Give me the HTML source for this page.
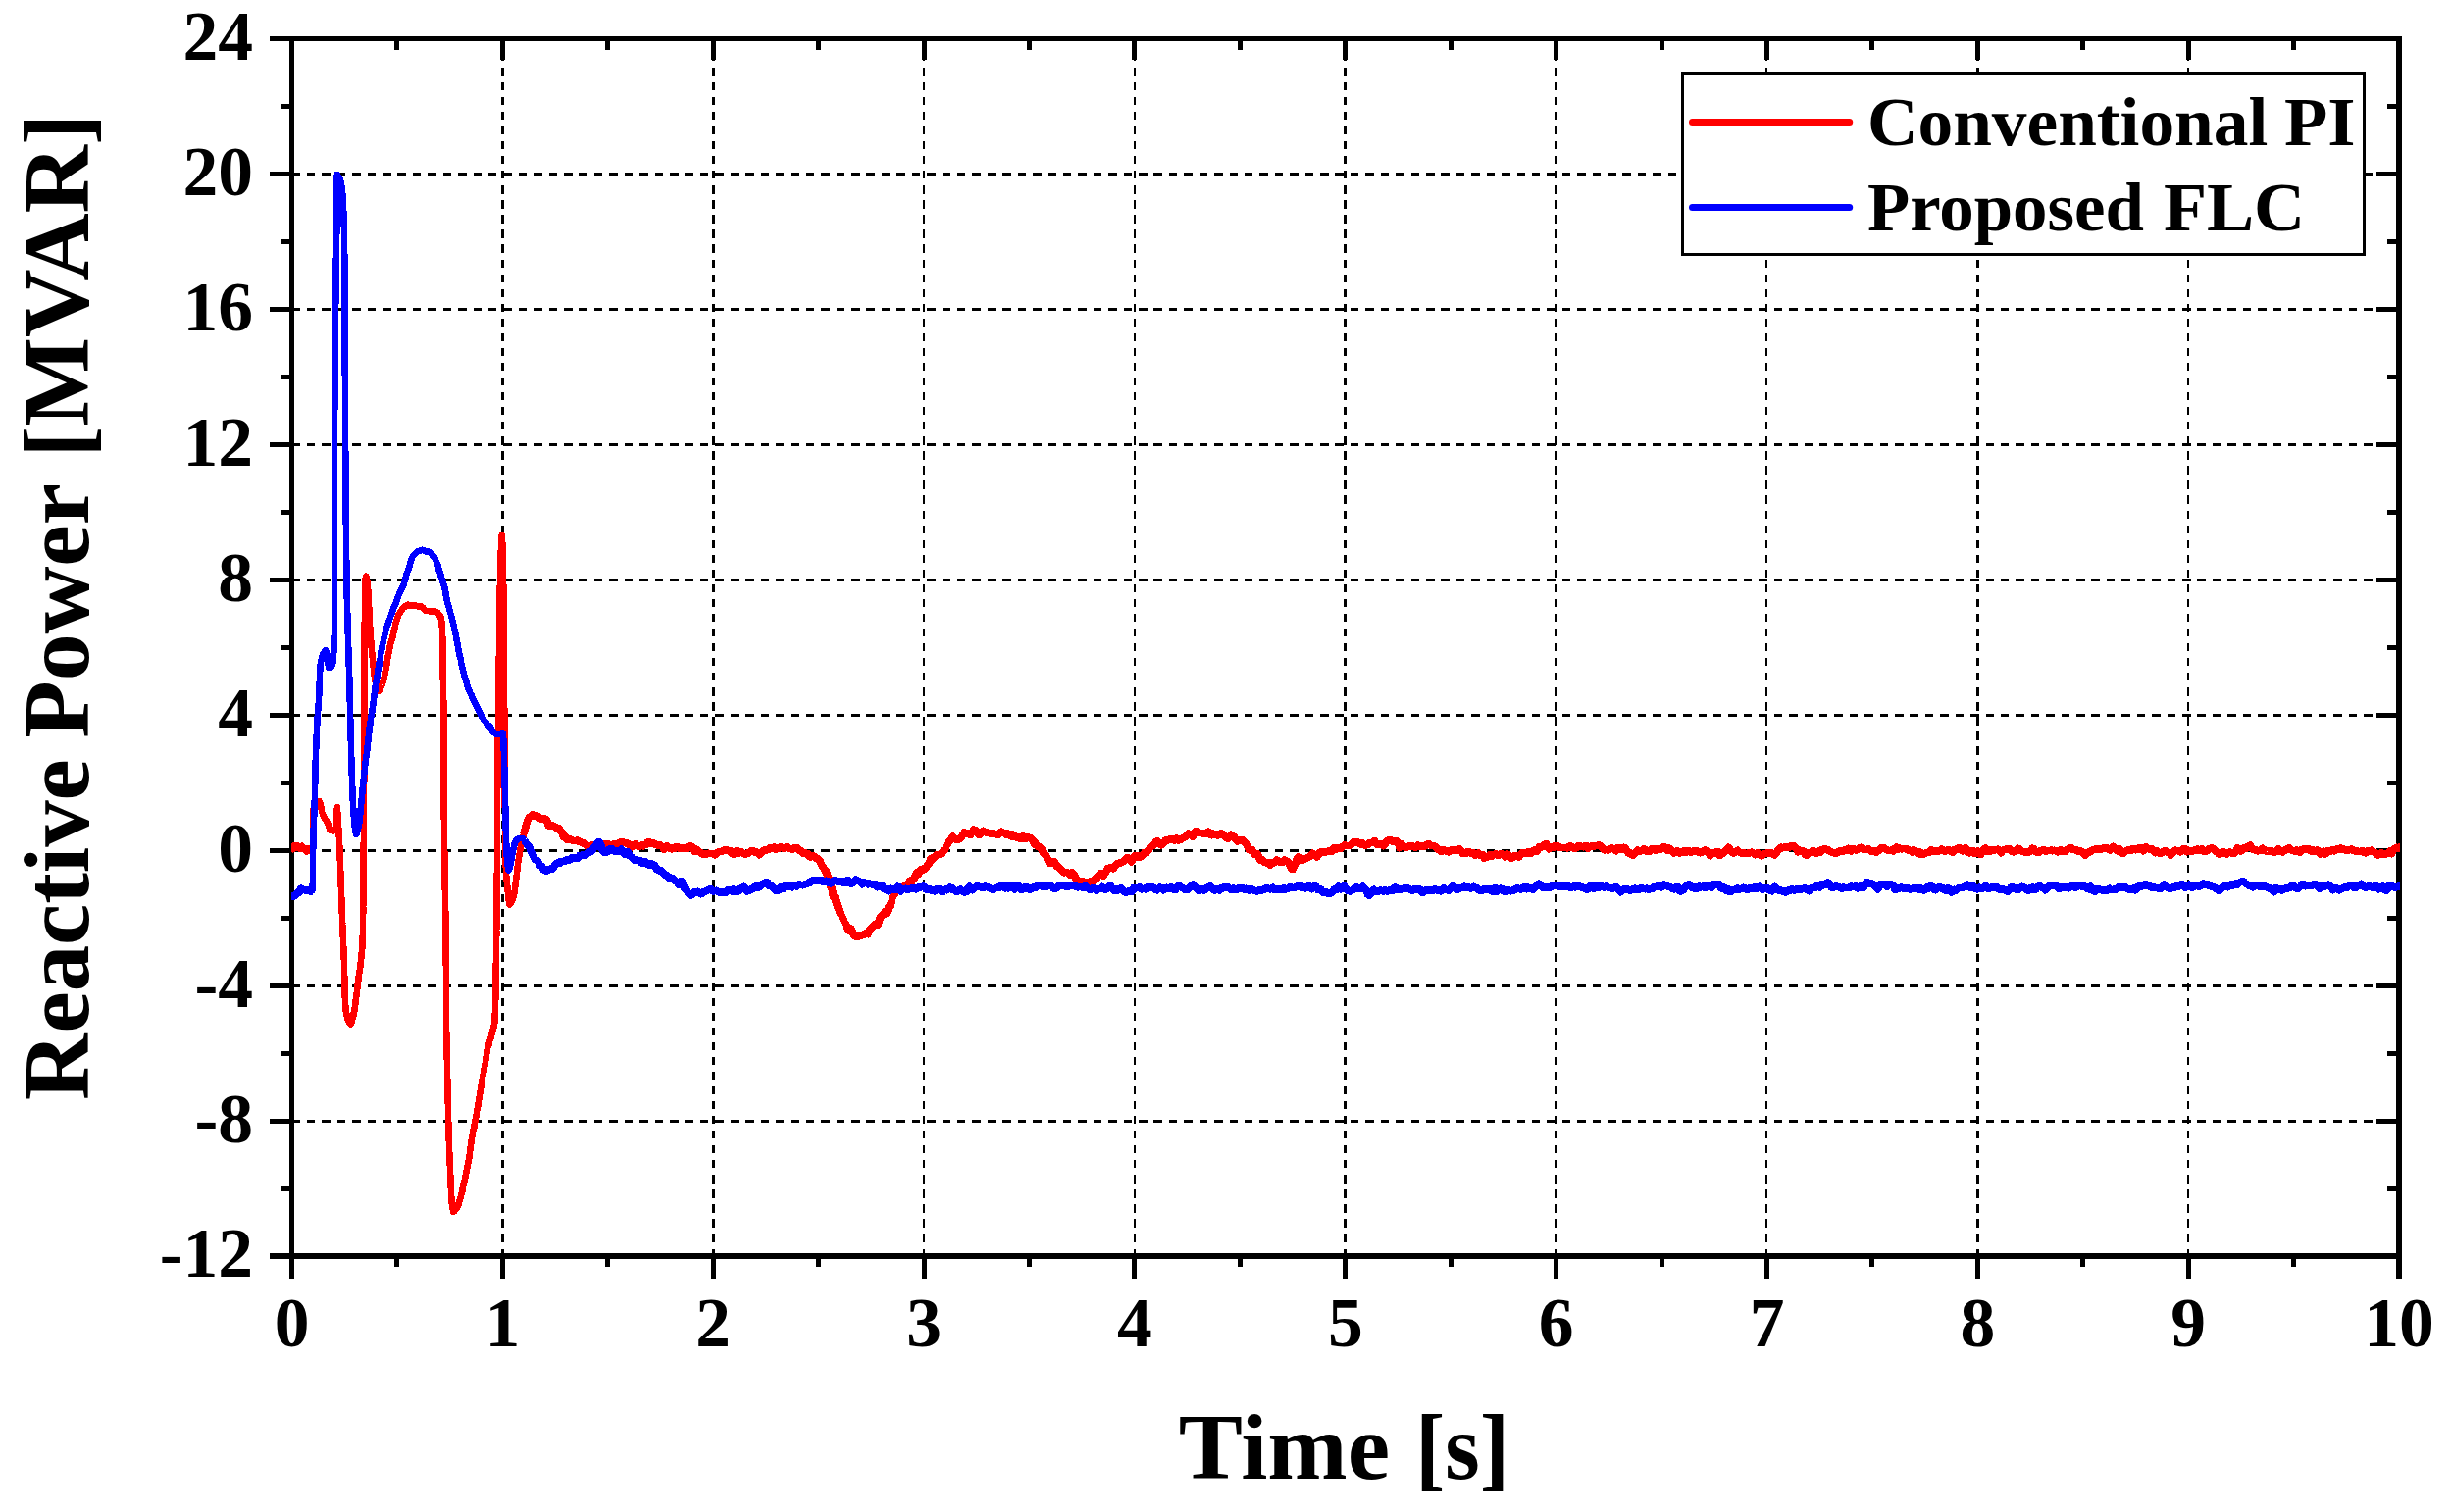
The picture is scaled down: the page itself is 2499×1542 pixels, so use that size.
<!DOCTYPE html>
<html lang="en"><head><meta charset="utf-8"><title>Reactive Power</title>
<style>html,body{margin:0;padding:0;background:#fff}body{width:2499px;height:1542px;overflow:hidden}svg{display:block}text{font-family:"Liberation Serif",serif;font-weight:bold;fill:#000}</style></head><body>
<svg width="2499" height="1542" viewBox="0 0 2499 1542">
<rect width="2499" height="1542" fill="#fff"/>
<g stroke="#000" fill="none" shape-rendering="crispEdges">
<line x1="512.5" y1="38.6" x2="512.5" y2="1281.0" stroke-width="3" stroke-dasharray="8.3 6.76"/>
<line x1="727.5" y1="38.6" x2="727.5" y2="1281.0" stroke-width="3" stroke-dasharray="8.3 6.76"/>
<line x1="942" y1="38.6" x2="942" y2="1281.0" stroke-width="2" stroke-dasharray="8.3 6.76"/>
<line x1="1157" y1="38.6" x2="1157" y2="1281.0" stroke-width="2" stroke-dasharray="8.3 6.76"/>
<line x1="1371.5" y1="38.6" x2="1371.5" y2="1281.0" stroke-width="3" stroke-dasharray="8.3 6.76"/>
<line x1="1586.5" y1="38.6" x2="1586.5" y2="1281.0" stroke-width="3" stroke-dasharray="8.3 6.76"/>
<line x1="1801" y1="38.6" x2="1801" y2="1281.0" stroke-width="2" stroke-dasharray="8.3 6.76"/>
<line x1="2016.5" y1="38.6" x2="2016.5" y2="1281.0" stroke-width="3" stroke-dasharray="8.3 6.76"/>
<line x1="2231" y1="38.6" x2="2231" y2="1281.0" stroke-width="2" stroke-dasharray="8.3 6.76"/>
<line x1="297.5" y1="1143.5" x2="2446.0" y2="1143.5" stroke-width="3" stroke-dasharray="8.5 6.92"/>
<line x1="297.5" y1="1005.5" x2="2446.0" y2="1005.5" stroke-width="3" stroke-dasharray="8.5 6.92"/>
<line x1="297.5" y1="867.5" x2="2446.0" y2="867.5" stroke-width="3" stroke-dasharray="8.5 6.92"/>
<line x1="297.5" y1="729.5" x2="2446.0" y2="729.5" stroke-width="3" stroke-dasharray="8.5 6.92"/>
<line x1="297.5" y1="591.5" x2="2446.0" y2="591.5" stroke-width="3" stroke-dasharray="8.5 6.92"/>
<line x1="297.5" y1="453.5" x2="2446.0" y2="453.5" stroke-width="3" stroke-dasharray="8.5 6.92"/>
<line x1="297.5" y1="315.5" x2="2446.0" y2="315.5" stroke-width="3" stroke-dasharray="8.5 6.92"/>
<line x1="297.5" y1="177.5" x2="2446.0" y2="177.5" stroke-width="3" stroke-dasharray="8.5 6.92"/>
</g>
<g fill="#000" shape-rendering="crispEdges">
<rect x="275" y="37" width="2174" height="5"/>
<rect x="275" y="1278" width="2174" height="6"/>
<rect x="295" y="37" width="5" height="1267"/>
<rect x="2443" y="37" width="6" height="1267"/>
<rect x="402" y="1284" width="5" height="8"/>
<rect x="402" y="42" width="5" height="9"/>
<rect x="510" y="1284" width="5" height="20"/>
<rect x="510" y="42" width="5" height="19"/>
<rect x="617" y="1284" width="5" height="8"/>
<rect x="617" y="42" width="5" height="9"/>
<rect x="725" y="1284" width="5" height="20"/>
<rect x="725" y="42" width="5" height="19"/>
<rect x="832" y="1284" width="5" height="8"/>
<rect x="832" y="42" width="5" height="9"/>
<rect x="940" y="1284" width="5" height="20"/>
<rect x="940" y="42" width="5" height="19"/>
<rect x="1047" y="1284" width="5" height="8"/>
<rect x="1047" y="42" width="5" height="9"/>
<rect x="1154" y="1284" width="5" height="20"/>
<rect x="1154" y="42" width="5" height="19"/>
<rect x="1262" y="1284" width="5" height="8"/>
<rect x="1262" y="42" width="5" height="9"/>
<rect x="1369" y="1284" width="5" height="20"/>
<rect x="1369" y="42" width="5" height="19"/>
<rect x="1477" y="1284" width="5" height="8"/>
<rect x="1477" y="42" width="5" height="9"/>
<rect x="1584" y="1284" width="5" height="20"/>
<rect x="1584" y="42" width="5" height="19"/>
<rect x="1692" y="1284" width="5" height="8"/>
<rect x="1692" y="42" width="5" height="9"/>
<rect x="1799" y="1284" width="5" height="20"/>
<rect x="1799" y="42" width="5" height="19"/>
<rect x="1906" y="1284" width="5" height="8"/>
<rect x="1906" y="42" width="5" height="9"/>
<rect x="2014" y="1284" width="5" height="20"/>
<rect x="2014" y="42" width="5" height="19"/>
<rect x="2121" y="1284" width="5" height="8"/>
<rect x="2121" y="42" width="5" height="9"/>
<rect x="2229" y="1284" width="5" height="20"/>
<rect x="2229" y="42" width="5" height="19"/>
<rect x="2336" y="1284" width="5" height="8"/>
<rect x="2336" y="42" width="5" height="9"/>
<rect x="286" y="1210" width="9" height="5"/>
<rect x="2434" y="1210" width="9" height="5"/>
<rect x="275" y="1141" width="20" height="5"/>
<rect x="2423" y="1141" width="20" height="5"/>
<rect x="286" y="1072" width="9" height="5"/>
<rect x="2434" y="1072" width="9" height="5"/>
<rect x="275" y="1003" width="20" height="5"/>
<rect x="2423" y="1003" width="20" height="5"/>
<rect x="286" y="934" width="9" height="5"/>
<rect x="2434" y="934" width="9" height="5"/>
<rect x="275" y="865" width="20" height="5"/>
<rect x="2423" y="865" width="20" height="5"/>
<rect x="286" y="796" width="9" height="5"/>
<rect x="2434" y="796" width="9" height="5"/>
<rect x="275" y="727" width="20" height="5"/>
<rect x="2423" y="727" width="20" height="5"/>
<rect x="286" y="658" width="9" height="5"/>
<rect x="2434" y="658" width="9" height="5"/>
<rect x="275" y="589" width="20" height="5"/>
<rect x="2423" y="589" width="20" height="5"/>
<rect x="286" y="520" width="9" height="5"/>
<rect x="2434" y="520" width="9" height="5"/>
<rect x="275" y="451" width="20" height="5"/>
<rect x="2423" y="451" width="20" height="5"/>
<rect x="286" y="382" width="9" height="5"/>
<rect x="2434" y="382" width="9" height="5"/>
<rect x="275" y="313" width="20" height="5"/>
<rect x="2423" y="313" width="20" height="5"/>
<rect x="286" y="244" width="9" height="5"/>
<rect x="2434" y="244" width="9" height="5"/>
<rect x="275" y="175" width="20" height="5"/>
<rect x="2423" y="175" width="20" height="5"/>
<rect x="286" y="106" width="9" height="5"/>
<rect x="2434" y="106" width="9" height="5"/>
</g>
<clipPath id="plotclip"><rect x="297.0" y="30" width="2150.0" height="1260"/></clipPath>
<g fill="none" stroke-linejoin="round" stroke-linecap="butt" shape-rendering="crispEdges" clip-path="url(#plotclip)">
<polyline stroke="#ff0000" stroke-width="7.7" points="295.9,867.4 297.4,865.8 298.9,865.4 300.4,862.9 301.9,864.2 303.4,863.1 304.9,864.3 306.4,865.2 307.9,863.4 309.4,864.9 311.0,866.4 312.6,867.9 314.2,865.5 315.8,866.8 317.5,866.3 318.9,866.4"/>
<polyline stroke="#ff0000" stroke-width="6.6" points="318.9,866.4 318.9,864.8 318.9,864.2 319.0,862.9 319.0,861.7 319.0,860.4 319.0,858.8 319.0,857.7 319.0,856.2 319.0,854.4 319.0,852.0 319.0,849.5 319.0,847.7 319.0,846.0 319.0,843.9 319.1,842.2 319.1,840.3 319.1,838.5 319.1,837.1 319.1,835.9 319.2,834.1 319.2,832.5 319.3,831.1 319.4,829.7 319.5,827.7 319.6,826.2 319.8,824.2 320.1,822.4 320.6,821.5 321.3,820.2 322.1,818.5 323.5,817.8 325.0,817.1 325.8,817.2 326.3,819.2 326.7,820.1 327.1,821.6 327.4,823.2 327.7,825.6 328.1,827.7 328.6,829.2 329.2,830.4 329.9,832.2 330.6,833.9 331.4,834.9 332.1,836.0 332.9,837.7 333.6,839.0 334.3,840.2 334.9,841.8 335.5,843.8 336.3,845.9 337.1,847.0 338.3,846.8 340.0,847.4 341.2,847.2 342.2,845.2 342.8,843.6 343.0,843.1 343.1,841.9 343.2,840.4 343.2,838.1 343.3,836.4 343.3,835.2 343.3,833.8 343.4,831.5 343.4,829.8 343.5,828.4 343.6,826.0 343.8,824.1 343.9,823.2 344.0,823.7 344.1,826.3 344.2,828.3 344.3,830.0 344.4,831.4 344.4,832.9 344.5,834.7 344.6,836.4 344.6,838.3 344.7,839.3 344.8,840.7 345.0,842.0 345.1,842.9 345.2,844.5 345.4,846.4 345.5,848.7 345.6,850.7 345.7,853.0 345.8,853.7 345.9,855.0 346.0,856.9 346.1,858.6 346.1,860.1 346.2,861.8 346.3,863.4 346.3,865.0 346.4,866.6 346.5,867.8 346.5,869.4 346.6,870.7 346.6,872.3 346.7,874.5 346.7,876.2 346.8,877.9 346.8,879.5 346.9,881.1 346.9,881.7 347.0,883.3 347.1,885.0 347.1,886.8 347.2,888.3 347.2,890.0 347.3,892.0 347.4,893.5 347.4,895.2 347.5,897.2 347.5,898.5 347.6,899.8 347.6,902.1 347.7,904.2 347.8,905.1 347.8,906.2 347.9,907.5 347.9,909.3 348.0,911.1 348.1,912.8 348.1,914.2 348.2,915.2 348.3,917.0 348.3,918.9 348.4,921.0 348.4,922.5 348.5,924.5 348.6,925.5 348.6,926.6 348.7,928.2 348.7,930.1 348.8,932.0 348.9,933.6 348.9,934.8 349.0,935.8 349.0,938.0 349.1,940.1 349.2,941.4 349.2,942.4 349.3,944.9 349.4,946.8 349.4,947.6 349.5,949.2 349.6,950.4 349.6,951.9 349.7,954.2 349.8,956.3 349.8,957.6 349.9,958.9 350.0,960.9 350.0,962.1 350.1,963.9 350.2,965.0 350.3,966.6 350.4,969.0 350.4,970.3 350.5,971.7 350.6,973.2 350.6,974.9 350.7,976.6 350.8,978.4 350.8,979.8 350.9,981.7 350.9,983.2 351.0,985.1 351.0,987.1 351.0,988.3 351.1,989.2 351.1,990.4 351.1,992.9 351.2,994.9 351.2,996.1 351.2,998.1 351.3,999.4 351.3,1001.4 351.3,1002.6 351.3,1004.4 351.4,1005.7 351.4,1007.3 351.5,1008.8 351.5,1010.5 351.5,1012.4 351.6,1014.5 351.6,1015.6 351.7,1016.5 351.8,1017.9 351.8,1019.8 351.9,1021.1 352.0,1023.1 352.1,1024.6 352.3,1025.9 352.4,1027.1 352.6,1029.5 352.8,1031.2 353.1,1032.4 353.3,1034.1 353.6,1035.2 353.9,1036.9 354.3,1038.5 354.7,1039.7 355.6,1041.6 356.6,1044.0 357.4,1044.4 358.0,1043.8 358.6,1042.3 359.1,1040.3 359.6,1038.3 360.0,1036.7 360.4,1035.5 360.7,1033.3 361.0,1032.3 361.3,1031.2 361.5,1029.6 361.8,1027.5 362.0,1025.9 362.2,1024.6 362.4,1022.4 362.6,1020.5 362.8,1019.3 363.0,1018.1 363.2,1016.4 363.5,1014.9 363.7,1013.3 363.9,1012.0 364.1,1009.8 364.3,1007.3 364.5,1005.7 364.7,1003.7 364.9,1002.1 365.0,1001.4 365.2,1000.7 365.4,999.0 365.6,996.8 365.8,995.0 366.0,994.7 366.2,992.8 366.4,991.0 366.7,989.6 366.9,988.0 367.2,986.5 367.4,985.4 367.6,982.8 367.9,981.2 368.1,979.9 368.2,978.1 368.4,976.7 368.5,974.9 368.7,973.7 368.8,971.5 369.0,970.2 369.1,969.5 369.2,967.9 369.3,965.5 369.4,964.3 369.5,962.2 369.6,960.0 369.6,959.0 369.7,957.8 369.7,955.9 369.8,954.0 369.8,952.2 369.8,951.2 369.9,950.0 369.9,948.2 369.9,946.7 370.0,945.0 370.0,943.5 370.0,941.4 370.0,939.5 370.1,938.8 370.1,937.5 370.1,936.0 370.1,934.1 370.2,932.2 370.2,930.4 370.2,928.7 370.2,926.9 370.2,925.9 370.2,924.5 370.3,922.9 370.3,920.8 370.3,919.0 370.3,917.5 370.3,916.7 370.3,914.6 370.4,912.9 370.4,910.8 370.4,909.1 370.4,907.9 370.4,906.8 370.4,904.3 370.4,903.0 370.4,901.2 370.5,899.9 370.5,897.4 370.5,896.0 370.5,894.6 370.5,893.9 370.5,891.7 370.5,890.7 370.6,889.2 370.6,886.9 370.6,885.3 370.6,884.0 370.6,882.2 370.6,880.7 370.6,879.4 370.6,878.3 370.6,876.1 370.7,874.1 370.7,872.8 370.7,870.9 370.7,869.0 370.7,867.4 370.7,866.3 370.7,865.1 370.7,863.4 370.7,862.1 370.7,860.4 370.8,858.8 370.8,857.9 370.8,854.9 370.8,853.1 370.8,851.5 370.8,850.2 370.8,849.3 370.8,847.7 370.8,845.6 370.8,843.2 370.9,841.8 370.9,840.9 370.9,839.5 370.9,837.6 370.9,835.6 370.9,834.6 370.9,832.7 370.9,831.4 370.9,829.6 370.9,828.4 371.0,827.1 371.0,825.6 371.0,823.3 371.0,820.6 371.0,819.3 371.0,817.8 371.0,816.0 371.0,815.1 371.0,813.9 371.1,811.7 371.1,809.6 371.1,808.1 371.1,806.9 371.1,806.0 371.1,805.0 371.1,802.5 371.1,800.3 371.1,798.6 371.2,797.5 371.2,795.7 371.2,793.9 371.2,792.5 371.2,791.0 371.2,790.1 371.2,788.8 371.2,787.2 371.2,785.1 371.2,783.2 371.3,781.4 371.3,779.9 371.3,778.0 371.3,776.0 371.3,774.3 371.3,773.2 371.3,772.1 371.3,770.7 371.3,769.0 371.3,766.3 371.4,765.2 371.4,763.8 371.4,762.5 371.4,760.9 371.4,759.3 371.4,757.5 371.4,755.0 371.4,753.8 371.4,752.6 371.5,751.2 371.5,749.2 371.5,748.4 371.5,747.1 371.5,745.1 371.5,743.3 371.5,741.1 371.5,740.1 371.5,739.1 371.5,737.2 371.6,735.6 371.6,733.6 371.6,731.5 371.6,729.9 371.6,728.8 371.6,727.1 371.6,725.4 371.6,723.7 371.6,722.4 371.6,720.3 371.6,718.3 371.6,717.3 371.6,715.9 371.6,713.9 371.6,712.2 371.7,710.5 371.7,709.1 371.7,707.0 371.7,706.2 371.7,705.2 371.7,702.8 371.7,701.3 371.7,699.5 371.7,697.8 371.7,696.8 371.7,695.5 371.7,693.7 371.7,692.1 371.7,690.5 371.7,688.8 371.7,686.6 371.7,685.4 371.7,683.8 371.7,682.7 371.7,680.8 371.7,678.9 371.7,677.2 371.7,675.9 371.7,674.6 371.7,672.6 371.7,670.5 371.7,669.1 371.7,667.8 371.7,665.8 371.7,663.7 371.7,662.6 371.7,661.6 371.7,659.5 371.7,657.5 371.7,656.0 371.7,654.6 371.7,653.5 371.7,651.6 371.7,650.1 371.7,648.5 371.7,646.9 371.7,645.4 371.7,643.3 371.7,641.2 371.7,640.2 371.7,639.7 371.7,637.8 371.7,636.3 371.8,634.4 371.8,632.7 371.8,631.3 371.8,629.9 371.8,627.9 371.8,625.5 371.9,624.0 371.9,622.8 371.9,621.7 371.9,620.2 371.9,617.9 371.9,616.2 372.0,615.1 372.0,613.6 372.0,611.3 372.0,609.7 372.1,608.6 372.1,606.9 372.1,605.1 372.2,602.2 372.2,600.2 372.3,599.0 372.4,597.2 372.5,595.1 372.6,592.8 372.7,590.8 372.8,589.0 372.9,588.5 373.1,588.0 373.2,587.7 373.5,588.7 373.8,589.4 374.2,591.5 374.5,593.9 374.7,596.3 374.9,598.0 375.0,599.0 375.1,600.0 375.2,601.3 375.3,603.2 375.4,604.6 375.5,606.3 375.6,607.7 375.7,609.8 375.8,611.4 375.9,613.1 376.0,614.2 376.1,615.8 376.1,617.4 376.2,618.9 376.3,620.7 376.4,622.5 376.5,624.2 376.5,624.9 376.6,626.9 376.7,628.2 376.8,630.1 376.9,631.8 377.0,633.0 377.0,635.2 377.1,636.9 377.2,638.9 377.3,640.2 377.4,641.7 377.5,642.7 377.6,644.4 377.7,646.6 377.9,647.9 378.0,649.4 378.1,651.4 378.2,652.8 378.3,654.6 378.4,656.1 378.6,657.7 378.7,658.8 378.8,661.0 379.0,662.6 379.1,664.6 379.3,666.0 379.5,667.3 379.6,668.9 379.8,670.9 379.9,671.9 380.1,673.8 380.3,674.9 380.5,677.0 380.6,679.1 380.8,680.4 381.0,681.6 381.1,683.1 381.3,685.2 381.4,686.0 381.6,687.1 381.8,689.4 382.0,690.4 382.2,692.4 382.5,694.2 382.8,696.1 383.2,698.0 383.7,700.3 384.3,702.3 384.9,704.4 385.5,704.6 386.2,704.8 386.8,703.7 387.5,702.6 388.2,701.8 388.9,700.1 389.5,698.5 390.1,696.6 390.6,694.6 391.0,692.9 391.4,691.7 391.8,690.4 392.2,688.7 392.5,687.0 392.8,684.7 393.2,683.6 393.5,681.5 393.8,680.4 394.1,679.0 394.4,677.4 394.6,675.7 394.9,673.4 395.2,672.0 395.4,670.3 395.7,668.9 396.0,667.0 396.3,665.7 396.6,665.0 396.9,663.5 397.2,661.6 397.5,660.1 397.9,658.1 398.3,656.0 398.7,655.0 399.1,654.3 399.5,652.8 399.9,651.4 400.3,650.2 400.7,647.8 401.1,646.6 401.5,644.8 401.8,643.1 402.2,641.7 402.5,640.6 402.8,639.2 403.2,636.7 403.6,634.9 404.0,634.0 404.5,632.8 405.0,631.3 405.5,629.9 406.2,627.5 407.0,625.8 407.8,624.8 408.7,623.7 409.6,622.2 410.6,620.1 411.8,619.5 413.1,618.4 414.5,617.5 416.1,616.5 417.6,617.6 419.1,617.5 420.8,617.7 422.4,617.3 424.0,617.8 425.6,618.4 427.2,618.2 428.7,618.3 430.0,618.8 431.2,619.8 432.4,621.7 433.7,622.8 435.2,622.8 436.8,623.2 438.4,623.2 440.0,623.4 441.7,623.7 443.2,623.3 444.8,624.1 446.4,624.9 447.7,627.0 448.4,627.8 448.9,627.9 449.4,629.5 449.8,631.8 450.1,632.9 450.4,634.3 450.5,636.4 450.6,637.7 450.7,638.6 450.8,639.4 450.9,641.9 451.0,643.8 451.1,645.6 451.1,647.2 451.2,648.8 451.2,651.1 451.3,652.4 451.3,653.9 451.4,654.9 451.4,656.4 451.4,658.2 451.5,660.3 451.5,661.6 451.5,663.1 451.5,664.7 451.5,666.6 451.6,668.0 451.6,669.4 451.6,670.7 451.6,672.6 451.6,675.4 451.6,676.9 451.6,678.2 451.7,679.9 451.7,681.7 451.7,682.7 451.7,684.3 451.7,686.1 451.7,687.8 451.7,689.1 451.7,691.0 451.8,693.0 451.8,694.5 451.8,696.1 451.8,696.8 451.8,698.2 451.9,700.1 451.9,702.1 451.9,703.8 452.0,705.1 452.0,706.2 452.0,707.3 452.1,709.8 452.1,711.2 452.1,712.9 452.2,714.2 452.2,715.1 452.2,717.4 452.2,719.5 452.2,721.5 452.2,723.4 452.3,725.2 452.3,725.9 452.3,726.3 452.3,728.3 452.3,729.8 452.3,731.7 452.3,733.7 452.3,734.9 452.3,736.4 452.3,737.8 452.3,740.0 452.3,741.8 452.4,743.2 452.4,744.6 452.4,746.1 452.4,747.3 452.4,749.1 452.4,751.5 452.4,754.2 452.4,755.7 452.4,757.1 452.4,758.2 452.4,759.4 452.4,761.3 452.4,763.2 452.4,764.1 452.4,765.8 452.4,767.2 452.4,768.8 452.4,769.9 452.4,771.7 452.4,774.1 452.5,776.5 452.5,777.5 452.5,778.7 452.5,780.5 452.5,781.8 452.5,783.0 452.5,785.0 452.5,786.8 452.5,788.6 452.5,789.9 452.5,791.5 452.5,792.8 452.5,794.1 452.5,796.0 452.5,798.1 452.5,798.8 452.5,800.3 452.5,802.6 452.5,804.7 452.5,806.2 452.6,807.9 452.6,808.9 452.6,810.5 452.6,812.2 452.6,813.3 452.6,815.1 452.6,816.4 452.6,817.7 452.6,819.3 452.6,821.0 452.6,823.1 452.7,825.3 452.7,827.2 452.7,829.0 452.7,829.6 452.7,830.6 452.7,832.3 452.7,833.8 452.8,835.6 452.8,837.9 452.8,838.8 452.8,840.1 452.8,842.5 452.8,844.7 452.9,845.9 452.9,847.8 452.9,849.1 452.9,850.8 452.9,852.6 453.0,854.2 453.0,856.0 453.0,856.7 453.0,858.4 453.1,859.6 453.1,861.6 453.1,863.3 453.1,864.9 453.1,867.0 453.2,868.0 453.2,869.1 453.2,870.3 453.2,873.0 453.3,874.3 453.3,876.0 453.3,877.3 453.3,879.2 453.4,880.7 453.4,882.6 453.4,884.1 453.4,886.7 453.4,888.1 453.5,888.9 453.5,890.3 453.5,891.7 453.5,893.3 453.6,895.1 453.6,896.4 453.6,898.2 453.6,899.8 453.7,901.0 453.7,902.8 453.7,903.8 453.7,905.9 453.8,908.0 453.8,909.6 453.8,911.0 453.9,912.1 453.9,914.3 453.9,916.7 454.0,917.8 454.0,919.5 454.0,920.5 454.0,922.4 454.1,923.5 454.1,925.5 454.1,927.1 454.2,929.4 454.2,931.0 454.2,932.7 454.3,933.6 454.3,935.5 454.3,937.3 454.3,938.8 454.4,941.1 454.4,942.5 454.4,943.1 454.5,944.9 454.5,947.1 454.5,948.6 454.5,949.6 454.5,950.5 454.6,952.6 454.6,954.5 454.6,956.7 454.6,958.4 454.6,959.8 454.6,960.6 454.6,962.6 454.6,964.8 454.7,966.6 454.7,967.7 454.7,969.0 454.7,971.1 454.7,972.4 454.7,973.6 454.7,975.3 454.7,977.5 454.7,978.8 454.7,980.2 454.7,981.6 454.7,983.6 454.8,985.1 454.8,986.3 454.8,987.5 454.8,989.6 454.8,991.6 454.8,992.6 454.8,994.6 454.8,996.2 454.8,997.6 454.8,999.2 454.8,1000.9 454.8,1003.0 454.8,1005.5 454.8,1007.3 454.8,1007.5 454.8,1009.1 454.8,1011.0 454.8,1012.5 454.9,1013.9 454.9,1015.1 454.9,1017.2 454.9,1019.2 454.9,1020.9 454.9,1022.0 454.9,1023.4 454.9,1024.9 454.9,1026.9 454.9,1028.3 454.9,1029.9 454.9,1031.0 455.0,1032.5 455.0,1034.4 455.0,1036.8 455.0,1037.9 455.0,1039.4 455.0,1041.2 455.0,1042.2 455.0,1043.8 455.1,1045.8 455.1,1047.5 455.1,1049.0 455.1,1050.6 455.2,1051.9 455.2,1053.2 455.2,1055.6 455.2,1056.7 455.3,1057.9 455.3,1059.9 455.3,1062.3 455.4,1063.5 455.4,1064.8 455.4,1066.7 455.5,1068.5 455.5,1069.8 455.5,1071.5 455.6,1073.2 455.6,1074.4 455.7,1075.9 455.7,1077.5 455.7,1079.1 455.8,1080.6 455.8,1082.5 455.8,1084.5 455.9,1086.2 455.9,1087.9 456.0,1089.7 456.0,1091.4 456.0,1093.0 456.1,1094.1 456.1,1095.3 456.1,1097.1 456.2,1099.5 456.2,1100.8 456.2,1101.1 456.3,1102.7 456.3,1105.6 456.3,1106.9 456.4,1108.5 456.4,1110.0 456.5,1111.4 456.5,1113.3 456.5,1115.2 456.6,1116.3 456.6,1117.4 456.6,1119.1 456.7,1120.9 456.7,1122.8 456.7,1124.0 456.8,1125.4 456.8,1127.2 456.8,1128.7 456.9,1129.8 456.9,1131.6 456.9,1133.2 457.0,1135.9 457.0,1137.8 457.0,1139.1 457.1,1140.4 457.1,1141.7 457.2,1143.5 457.2,1145.1 457.2,1147.1 457.3,1148.1 457.3,1149.7 457.4,1151.5 457.4,1152.4 457.5,1154.5 457.5,1156.1 457.6,1157.6 457.6,1159.2 457.7,1160.7 457.7,1162.8 457.8,1164.0 457.8,1166.2 457.9,1168.4 457.9,1169.8 458.0,1171.5 458.0,1172.6 458.1,1173.4 458.2,1175.2 458.2,1177.1 458.3,1178.8 458.4,1180.6 458.4,1181.4 458.5,1182.7 458.6,1184.4 458.6,1185.5 458.7,1187.5 458.8,1189.3 458.8,1190.8 458.9,1192.9 459.0,1194.2 459.1,1195.7 459.1,1196.9 459.2,1198.4 459.3,1199.8 459.4,1202.2 459.4,1204.5 459.5,1205.5 459.6,1207.2 459.6,1208.7 459.7,1210.4 459.8,1212.3 459.9,1214.0 459.9,1215.6 460.0,1217.7 460.1,1218.7 460.2,1220.1 460.4,1221.3 460.5,1223.4 460.6,1225.1 460.8,1227.2 461.0,1229.3 461.2,1230.9 461.5,1232.8 461.8,1234.1 462.1,1236.0 462.5,1235.9 463.2,1235.2 464.1,1234.1 465.2,1232.1 466.1,1231.3 466.8,1230.1 467.4,1228.6 468.0,1226.0 468.5,1224.2 469.0,1223.2 469.5,1221.9 469.9,1220.3 470.3,1218.0 470.7,1217.4 471.1,1215.8 471.5,1214.0 471.8,1211.6 472.1,1210.1 472.4,1208.3 472.7,1207.1 473.0,1206.1 473.4,1204.5 473.7,1203.4 474.1,1202.1 474.4,1200.5 474.8,1198.4 475.2,1197.0 475.5,1195.8 475.9,1193.0 476.3,1191.2 476.6,1189.8 476.9,1188.5 477.2,1187.2 477.5,1185.0 477.8,1183.4 478.0,1182.5 478.3,1180.9 478.5,1179.3 478.7,1177.8 478.9,1176.9 479.1,1174.3 479.3,1172.6 479.5,1171.3 479.8,1169.8 480.0,1168.2 480.2,1166.7 480.4,1165.0 480.6,1163.6 480.8,1162.1 481.1,1160.7 481.3,1159.1 481.6,1158.5 481.9,1156.9 482.2,1154.0 482.5,1152.6 482.8,1152.2 483.2,1150.6 483.5,1148.2 483.8,1146.2 484.2,1145.0 484.5,1142.7 484.8,1141.7 485.1,1140.0 485.4,1138.4 485.7,1136.5 486.0,1135.1 486.2,1133.2 486.5,1131.7 486.8,1130.3 487.0,1129.5 487.3,1127.8 487.5,1126.2 487.8,1124.3 488.0,1122.7 488.3,1121.2 488.5,1119.5 488.8,1118.1 489.1,1116.5 489.3,1115.0 489.6,1113.1 489.9,1111.5 490.2,1109.7 490.5,1108.4 490.8,1106.4 491.1,1105.0 491.3,1103.5 491.6,1101.6 491.9,1099.8 492.2,1098.2 492.5,1096.7 492.8,1095.8 493.1,1095.0 493.3,1092.9 493.6,1090.8 493.9,1089.4 494.1,1088.2 494.4,1086.8 494.6,1085.4 494.8,1084.0 495.1,1082.9 495.3,1080.9 495.6,1078.8 495.8,1077.4 496.1,1075.5 496.4,1073.3 496.7,1071.2 497.0,1070.2 497.3,1068.4 497.7,1067.0 498.1,1066.6 498.5,1065.3 499.0,1062.7 499.4,1061.3 499.9,1060.0 500.4,1058.5 500.8,1057.3 501.3,1054.8 501.7,1052.8 502.2,1051.0 502.7,1049.9 503.1,1049.3 503.5,1047.2 503.9,1045.3 504.1,1043.9 504.3,1042.9 504.4,1041.3 504.5,1039.7 504.6,1037.4 504.7,1035.4 504.7,1034.3 504.8,1033.3 504.9,1031.0 504.9,1029.7 505.0,1028.8 505.0,1026.5 505.1,1024.9 505.1,1023.7 505.1,1021.9 505.2,1019.9 505.2,1017.9 505.3,1016.8 505.3,1015.3 505.3,1013.7 505.3,1012.5 505.4,1011.5 505.4,1009.7 505.4,1007.5 505.5,1006.5 505.5,1005.2 505.5,1003.8 505.5,1001.9 505.5,999.7 505.6,998.0 505.6,996.1 505.6,994.5 505.6,992.9 505.6,991.5 505.7,989.3 505.7,987.5 505.7,986.0 505.7,985.0 505.7,984.3 505.8,982.4 505.8,980.6 505.8,978.4 505.8,977.0 505.9,975.3 505.9,974.0 505.9,972.8 505.9,971.7 505.9,969.3 506.0,966.9 506.0,965.4 506.0,963.6 506.0,962.5 506.1,961.7 506.1,959.7 506.1,957.6 506.1,956.7 506.2,955.2 506.2,953.3 506.2,951.5 506.2,950.0 506.2,948.5 506.3,947.1 506.3,946.0 506.3,944.5 506.3,943.1 506.4,941.2 506.4,939.0 506.4,936.9 506.4,935.3 506.4,934.0 506.5,932.8 506.5,931.3 506.5,929.2 506.5,927.6 506.5,926.3 506.5,925.1 506.5,923.2 506.6,921.8 506.6,920.1 506.6,917.9 506.6,915.5 506.6,914.2 506.6,913.1 506.6,911.3 506.6,909.8 506.7,908.6 506.7,906.4 506.7,905.0 506.7,904.2 506.7,902.1 506.7,899.9 506.7,898.8 506.7,897.2 506.7,895.3 506.7,893.8 506.7,892.1 506.8,890.7 506.8,889.0 506.8,888.1 506.8,886.3 506.8,884.4 506.8,883.3 506.8,882.0 506.8,880.1 506.8,878.5 506.8,876.6 506.8,875.1 506.8,873.9 506.8,872.4 506.8,870.8 506.9,868.7 506.9,866.7 506.9,864.8 506.9,863.9 506.9,862.6 506.9,860.9 506.9,859.8 506.9,857.8 506.9,856.2 506.9,854.2 506.9,851.4 506.9,849.8 506.9,848.5 506.9,847.6 506.9,846.2 506.9,844.9 506.9,843.8 507.0,842.3 507.0,840.5 507.0,838.3 507.0,836.3 507.0,835.1 507.0,833.1 507.0,831.4 507.0,830.5 507.0,828.8 507.0,826.6 507.0,825.0 507.0,823.6 507.0,821.8 507.1,820.7 507.1,818.9 507.1,817.2 507.1,815.3 507.1,814.3 507.1,812.6 507.1,810.8 507.1,809.0 507.1,806.4 507.1,805.4 507.1,804.8 507.2,803.5 507.2,801.3 507.2,799.5 507.2,797.9 507.2,797.1 507.2,795.9 507.2,793.3 507.2,791.4 507.3,789.5 507.3,789.0 507.3,788.1 507.3,786.3 507.3,784.2 507.3,782.3 507.4,780.2 507.4,778.6 507.4,777.1 507.4,775.4 507.4,773.9 507.5,772.7 507.5,771.2 507.5,769.6 507.5,767.4 507.5,765.6 507.6,763.8 507.6,762.4 507.6,760.5 507.6,759.0 507.6,757.4 507.7,755.4 507.7,754.1 507.7,752.7 507.7,751.5 507.8,750.4 507.8,749.3 507.8,746.4 507.8,745.1 507.9,744.2 507.9,741.9 507.9,740.6 507.9,739.3 507.9,737.3 508.0,735.0 508.0,733.8 508.0,732.5 508.0,730.8 508.1,728.9 508.1,727.1 508.1,726.1 508.1,725.1 508.1,722.7 508.2,721.4 508.2,719.6 508.2,717.3 508.2,715.7 508.2,715.0 508.3,712.6 508.3,710.6 508.3,709.6 508.3,708.7 508.3,706.9 508.3,705.2 508.4,704.4 508.4,702.4 508.4,700.9 508.4,699.3 508.4,697.8 508.5,695.4 508.5,693.9 508.5,692.3 508.5,690.3 508.5,688.7 508.6,688.2 508.6,686.8 508.6,685.2 508.6,682.8 508.6,681.7 508.6,680.7 508.7,678.7 508.7,676.6 508.7,674.6 508.7,672.6 508.7,670.6 508.8,669.1 508.8,668.2 508.8,666.1 508.8,665.1 508.8,663.7 508.9,662.7 508.9,661.2 508.9,659.2 508.9,657.6 508.9,655.7 509.0,653.5 509.0,652.5 509.0,650.9 509.0,648.9 509.0,647.4 509.1,646.2 509.1,644.6 509.1,642.7 509.1,641.2 509.1,639.4 509.2,637.1 509.2,636.0 509.2,635.6 509.2,634.1 509.3,632.0 509.3,630.3 509.3,628.9 509.3,627.0 509.3,625.9 509.4,623.8 509.4,622.1 509.4,620.2 509.4,618.9 509.5,616.6 509.5,615.3 509.5,613.4 509.5,611.9 509.5,610.0 509.6,609.2 509.6,607.5 509.6,605.9 509.6,603.5 509.7,602.3 509.7,601.1 509.7,599.9 509.7,598.9 509.8,597.1 509.8,595.3 509.8,593.5 509.9,592.0 509.9,590.2 509.9,587.9 510.0,586.1 510.0,585.5 510.0,584.3 510.1,582.2 510.1,580.3 510.2,578.7 510.2,577.0 510.3,574.4 510.3,573.0 510.4,571.6 510.5,569.9 510.5,567.6 510.6,566.0 510.7,564.1 510.8,561.0 510.9,558.7 511.0,555.8 511.0,554.1 511.1,553.5 511.2,551.6 511.3,550.2 511.4,548.7 511.5,547.4 511.6,546.8 511.6,546.5 511.7,546.0 511.8,546.2 511.8,547.0 511.9,546.9 512.0,547.7 512.1,548.9 512.1,550.9 512.2,552.6 512.3,554.7 512.3,555.5 512.4,557.0 512.5,558.6 512.5,560.6 512.6,562.6 512.6,564.6 512.7,567.4 512.7,569.2 512.8,571.6 512.8,573.6 512.9,574.9 512.9,577.2 512.9,579.5 513.0,581.3 513.0,583.4 513.0,584.6 513.0,586.0 513.1,587.1 513.1,588.9 513.1,590.9 513.1,591.9 513.1,593.8 513.2,596.0 513.2,596.7 513.2,598.5 513.2,599.9 513.2,601.7 513.2,602.7 513.3,604.1 513.3,605.4 513.3,607.6 513.3,609.1 513.3,611.1 513.3,612.1 513.3,614.3 513.4,616.5 513.4,618.4 513.4,619.6 513.4,620.5 513.4,622.1 513.4,624.2 513.4,625.4 513.4,626.5 513.5,629.1 513.5,630.9 513.5,631.9 513.5,633.6 513.5,635.3 513.5,637.2 513.5,638.1 513.5,639.6 513.6,641.8 513.6,643.4 513.6,644.4 513.6,646.3 513.6,647.8 513.6,649.3 513.6,651.4 513.7,652.5 513.7,653.8 513.7,655.6 513.7,657.3 513.7,658.4 513.7,659.5 513.7,661.3 513.7,663.3 513.8,665.3 513.8,667.4 513.8,668.2 513.8,669.6 513.8,671.9 513.8,673.9 513.8,675.9 513.8,677.0 513.8,677.8 513.9,680.0 513.9,681.7 513.9,683.7 513.9,684.7 513.9,686.3 513.9,687.7 513.9,689.4 513.9,691.6 514.0,692.5 514.0,693.7 514.0,695.7 514.0,698.4 514.0,699.4 514.0,700.5 514.0,701.7 514.0,703.5 514.0,704.2 514.1,706.2 514.1,708.6 514.1,710.0 514.1,712.3 514.1,714.2 514.1,715.3 514.1,717.0 514.1,718.8 514.1,720.0 514.2,721.6 514.2,723.4 514.2,724.7 514.2,726.0 514.2,727.5 514.2,729.0 514.2,729.9 514.2,732.1 514.2,734.2 514.2,735.5 514.2,736.5 514.3,738.5 514.3,740.8 514.3,742.3 514.3,743.2 514.3,745.1 514.3,746.6 514.3,748.7 514.3,750.3 514.3,751.8 514.3,753.2 514.3,755.6 514.3,756.6 514.4,758.0 514.4,759.9 514.4,761.6 514.4,762.3 514.4,763.5 514.4,765.5 514.4,766.8 514.4,768.6 514.4,770.3 514.4,772.1 514.4,773.8 514.4,775.5 514.4,777.5 514.5,778.9 514.5,780.7 514.5,782.6 514.5,784.2 514.5,784.8 514.5,786.3 514.5,788.4 514.5,790.4 514.5,792.2 514.5,793.1 514.5,794.7 514.6,796.7 514.6,798.3 514.6,799.4 514.6,800.7 514.6,802.1 514.6,804.4 514.6,806.9 514.6,808.0 514.6,808.8 514.7,810.4 514.7,812.4 514.7,814.5 514.7,816.1 514.7,818.1 514.7,819.2 514.7,820.9 514.7,822.7 514.8,823.9 514.8,824.7 514.8,826.5 514.8,828.6 514.8,829.6 514.8,831.0 514.8,833.3 514.9,834.9 514.9,836.5 514.9,838.1 514.9,839.6 514.9,841.2 514.9,842.4 515.0,843.8 515.0,845.9 515.0,848.0 515.0,848.9 515.0,850.7 515.0,852.2 515.1,854.2 515.1,856.1 515.1,857.6 515.1,859.7 515.2,861.0 515.2,862.2 515.2,863.7 515.2,865.0 515.3,866.1 515.3,867.6 515.3,869.7 515.4,871.3 515.4,873.1 515.4,874.6 515.5,876.4 515.5,877.4 515.5,879.4 515.6,880.9 515.7,882.3 515.7,883.8 515.8,885.2 515.9,887.2 516.0,889.5 516.1,891.0 516.2,892.9 516.4,893.7 516.5,895.4 516.6,897.0 516.8,898.8 516.9,900.2 517.1,902.3 517.2,903.6 517.4,904.8 517.5,907.2 517.7,909.1 517.9,911.1 518.1,912.3 518.3,914.7 518.6,917.3 518.8,918.7 519.1,920.4 519.4,922.2 519.8,922.6 520.2,921.9 520.8,921.4 521.5,920.1 522.3,918.4 523.1,916.1 523.6,914.6 523.9,913.1 524.3,911.1 524.5,909.3 524.8,908.0 525.0,907.1 525.2,904.9 525.4,902.5 525.6,901.1 525.8,900.1 526.0,898.8 526.2,897.0 526.4,895.0 526.6,894.1 526.8,892.4 527.0,891.0 527.2,888.8 527.4,887.4 527.5,886.8 527.7,883.9 527.9,882.2 528.1,880.9 528.3,879.4 528.5,878.8 528.7,877.2 529.0,874.5 529.2,873.2 529.5,872.0 529.7,870.9 530.0,869.1 530.3,867.3 530.6,865.4 530.9,863.5 531.2,861.4 531.6,859.9 531.9,859.3 532.2,857.6 532.6,856.8 533.0,854.8 533.3,852.6 533.7,852.0 534.1,850.7"/>
<polyline stroke="#ff0000" stroke-width="7.7" points="534.1,850.7 534.6,848.4 535.0,846.8 535.4,845.5 535.8,844.4 536.2,841.8 536.7,840.3 537.2,839.2 537.7,837.6 538.4,835.9 539.1,834.0 540.2,833.1 541.5,832.2 543.0,830.9 544.4,831.8 545.9,832.1 547.5,832.0 549.0,832.9 550.6,834.8 552.3,835.3 554.0,834.8 555.4,834.9 556.4,835.6 557.1,837.0 557.7,837.0 558.3,839.4 559.0,841.6 559.8,842.5 561.1,842.4 562.7,841.7 564.4,842.4 566.1,843.1 567.6,844.8 568.9,845.1 570.1,844.8 571.1,847.0 572.2,848.5 573.3,849.1 574.4,853.5 575.5,852.5 576.6,853.3 577.9,856.2 579.3,855.9 580.9,855.5 582.5,856.7 584.2,857.5 585.9,857.5 587.4,857.4 588.9,857.2 590.4,858.3 591.9,858.4 593.4,859.7 594.9,859.8 596.4,861.0 597.9,861.7 599.5,863.6 601.0,862.9 602.6,862.3 604.2,862.4 605.7,862.1 607.2,863.0 608.7,863.6 610.2,860.2 611.8,860.4 613.3,862.4 614.8,862.1 616.4,861.1 617.9,862.6 619.4,861.1 621.0,861.2 622.5,862.3 624.1,861.9 625.6,860.9 627.2,860.8 628.8,861.0 630.4,860.6 632.0,859.4 633.6,858.5 635.2,858.7 636.8,859.6 638.4,859.8 640.0,860.2 641.6,861.7 643.2,864.1 644.8,863.1 646.4,861.4 648.0,860.9 649.5,862.5 651.1,863.3 652.7,863.0 654.2,862.0 655.7,862.8 657.3,861.4 658.8,861.3 660.3,858.9 661.9,858.8 663.4,859.8 664.9,859.8 666.5,860.0 668.0,861.2 669.5,861.6 671.1,862.5 672.6,861.5 674.1,862.6 675.6,863.6 677.1,866.0 678.6,865.1 680.1,862.7 681.6,864.5 683.1,865.2 684.7,865.8 686.3,864.9 687.9,865.5 689.5,863.5 691.1,863.7 692.7,865.2 694.3,865.2 695.9,865.4 697.5,864.7 699.1,865.6 700.7,863.8 702.2,863.0 703.8,864.3 705.3,863.3 706.9,865.7 708.4,868.2 709.9,866.2 711.5,867.4 713.0,868.9 714.6,869.5 716.1,870.9 717.7,870.5 719.3,870.8 720.9,870.8 722.4,870.3 724.0,870.4 725.6,870.6 727.2,870.7 728.8,871.8 730.3,870.3 731.9,869.6 733.5,868.4 735.1,868.6 736.7,867.9 738.3,867.1 739.8,867.5 741.5,867.2 743.1,867.7 744.7,867.8 746.3,870.4 747.9,871.1 749.5,868.9 751.0,868.0 752.6,870.0 754.2,869.9 755.7,868.6 757.3,870.1 758.8,870.7 760.4,870.9 762.0,870.4 763.6,869.8 765.2,868.4 766.7,867.5 768.3,868.1 769.8,869.2 771.3,869.0 772.8,869.7 774.3,871.7 775.8,870.3 777.3,868.6 778.8,867.1 780.3,866.8 781.8,866.9 783.3,866.6 784.8,865.1 786.3,865.3 787.9,864.8 789.5,864.0 791.1,866.3 792.7,865.5 794.3,864.9 795.9,863.6 797.5,864.7 799.1,865.0 800.7,864.3 802.3,864.0 804.0,865.2 805.6,865.5 807.1,866.0 808.7,865.8 810.3,864.8 811.8,865.6 813.3,864.9 814.9,867.0 816.4,867.2 817.9,868.8 819.3,870.3 820.8,870.1 822.2,870.3 823.7,870.4 825.1,873.2 826.5,874.2 827.9,873.0 829.2,872.8 830.5,873.8 831.7,875.0 832.9,875.9 834.2,875.9 835.3,877.0 836.4,878.4 837.5,881.6 838.4,883.3 839.3,884.3 840.2,885.8 841.0,887.6 841.7,888.9 842.5,888.8 843.1,891.2 843.8,894.5 844.4,894.1 845.0,895.3 845.5,897.1 846.0,899.9 846.4,901.4 846.9,904.0 847.3,904.9 847.7,905.1 848.1,905.4 848.5,906.8 848.9,910.2 849.3,913.4 849.8,915.0 850.2,914.1 850.7,914.2 851.1,915.3 851.6,918.6 852.1,919.5 852.6,919.8 853.1,922.5 853.7,924.9 854.2,925.3 854.8,926.6 855.4,929.1 856.0,930.8 856.7,930.5 857.3,931.5 858.0,933.7 858.8,935.2 859.5,937.4 860.3,937.5 861.1,940.9 861.9,942.6 862.7,942.4 863.6,945.1 864.6,948.4 865.6,949.1 866.6,948.9 867.7,947.0 868.9,949.5 870.3,952.9 871.8,954.8 873.3,955.6 874.9,955.0 876.5,954.6 878.0,954.0 879.5,953.3 880.9,953.1 882.4,951.9 883.8,951.6 885.2,952.5 886.5,948.5 887.7,947.1 888.9,946.5 890.1,944.9 891.2,943.2 892.3,943.6 893.3,943.2 894.3,941.1 895.3,943.1 896.3,939.3 897.3,936.0 898.2,935.2 899.1,933.4 900.0,933.1 900.9,931.8 901.8,930.8 902.7,929.4 903.5,931.6 904.3,929.5 905.1,928.3 905.9,925.0 906.7,924.8 907.5,922.7 908.2,922.1 909.0,920.5 909.7,916.2 910.3,913.5 910.9,911.6 911.6,910.8 912.3,911.6 913.1,910.7 914.1,908.2 915.5,907.9 917.1,907.4 918.7,905.1 920.2,904.8 921.5,904.4 922.7,903.1 923.9,902.6 925.1,902.8 926.3,900.8 927.4,898.6 928.5,898.0 929.5,899.5 930.5,898.0 931.5,896.3 932.5,895.2 933.5,892.8 934.5,890.3 935.6,891.9 936.7,891.1 937.9,887.6 939.2,886.9 940.5,886.5 941.8,886.9 943.0,885.2 944.2,885.3 945.3,882.7 946.4,881.7 947.4,881.0 948.3,878.2 949.3,875.2 950.3,875.1 951.3,875.9 952.4,874.7 953.6,873.4 955.0,871.4 956.4,871.5 957.8,871.2 959.2,870.6 960.6,870.1 961.8,867.5 962.9,867.2 963.9,865.7 964.8,862.8 965.6,861.2 966.5,860.2 967.3,858.9 968.2,858.0 969.1,857.1 970.2,855.7 971.5,853.1 973.1,854.7 974.8,856.2 976.5,855.9 978.0,855.9 979.3,854.6 980.7,852.9 982.0,850.6 983.3,848.9 984.7,849.7 986.2,849.8 987.8,850.3 989.4,851.4 991.0,849.2 992.6,846.1 994.3,846.4 995.9,847.8 997.5,850.9 999.0,851.4 1000.6,849.0 1002.2,847.4 1003.8,848.5 1005.4,848.7 1007.0,849.6 1008.6,849.6 1010.1,850.2 1011.7,849.7 1013.3,850.4 1014.9,850.7 1016.5,851.5 1018.1,851.2 1019.7,849.0 1021.3,848.2 1022.9,849.2 1024.5,850.1 1026.1,851.2 1027.6,850.2 1029.2,851.3 1030.8,852.7 1032.4,850.8 1034.0,853.4 1035.5,853.1 1037.1,854.2 1038.7,853.7 1040.2,855.1 1041.7,855.5 1043.3,852.8 1044.9,854.9 1046.4,855.3 1047.9,853.8 1049.3,854.7 1050.7,854.5 1052.1,855.9 1053.4,857.7 1054.7,860.9 1055.9,860.1 1057.1,861.8 1058.3,863.4 1059.3,863.5 1060.3,864.0 1061.2,865.0 1062.1,865.7 1063.0,868.7 1063.8,870.2 1064.7,870.6 1065.7,871.4 1066.7,873.1 1067.7,875.4 1068.9,877.8 1070.1,880.1 1071.3,880.4 1072.6,879.3 1073.9,879.6 1075.2,878.6 1076.5,881.2 1077.7,883.8 1079.0,883.9 1080.4,885.2 1081.7,886.2 1083.0,887.8 1084.4,889.8 1085.7,889.6 1087.1,889.5 1088.6,890.1 1090.0,891.5 1091.5,892.2 1092.9,889.8 1094.4,890.9 1095.8,892.8 1097.1,896.2 1098.4,898.8 1099.6,898.1 1100.8,899.3 1102.1,900.0 1103.6,898.5 1105.1,899.4 1106.7,900.0 1108.3,900.9 1109.8,901.6 1111.1,899.1 1112.4,899.5 1113.6,899.4 1114.9,897.6 1116.1,896.9 1117.4,895.4 1118.6,895.5 1119.8,893.2 1121.0,891.6 1122.3,890.8 1123.6,890.9 1125.0,893.1 1126.4,891.2 1127.9,888.6 1129.4,885.8 1130.9,885.7 1132.4,884.7 1133.9,885.6 1135.3,885.8 1136.8,883.0 1138.3,881.7 1139.7,880.5 1141.1,880.3 1142.4,880.2 1143.7,879.2 1145.0,878.8 1146.2,878.0 1147.5,876.0 1148.9,874.7 1150.3,874.6 1151.9,876.9 1153.5,879.0 1155.1,876.7 1156.7,872.9 1158.2,873.1 1159.7,874.2 1161.2,872.6 1162.6,873.8 1164.0,873.4 1165.4,872.1 1166.8,869.5 1168.1,869.5 1169.3,868.6 1170.5,867.7 1171.7,866.2 1173.0,863.6 1174.2,863.1 1175.5,862.8 1176.9,861.1 1178.2,858.9 1179.6,857.8 1181.0,859.1 1182.5,861.0 1184.0,861.7 1185.5,860.1 1187.1,858.5 1188.7,856.7 1190.3,856.9 1191.9,856.5 1193.5,855.4 1195.1,856.0 1196.7,856.7 1198.3,856.7 1199.9,855.1 1201.4,857.0 1202.9,856.6 1204.3,856.2 1205.7,854.8 1207.1,854.3 1208.5,853.3 1210.0,851.4 1211.5,850.2 1213.0,851.0 1214.5,851.5 1216.1,853.0 1217.7,850.1 1219.3,847.6 1220.9,848.1 1222.5,849.1 1224.1,849.5 1225.7,849.4 1227.3,850.4 1228.9,850.1 1230.5,849.3 1232.1,848.3 1233.7,851.1 1235.3,851.7 1236.9,850.2 1238.5,850.9 1240.1,850.5 1241.6,852.0 1243.1,851.0 1244.6,849.7 1246.1,850.6 1247.5,851.2 1249.0,852.6 1250.5,854.7 1252.0,855.0 1253.6,853.7 1255.2,851.4 1256.8,852.7 1258.5,853.4 1260.1,856.4 1261.6,857.9 1263.1,856.9 1264.6,857.1 1265.9,857.6 1267.2,857.1 1268.5,859.1 1269.7,859.5 1270.9,861.1 1272.1,863.6 1273.2,866.2 1274.4,867.0 1275.5,867.7 1276.6,866.9 1277.7,868.5 1278.9,871.2 1280.0,871.5 1281.2,872.0 1282.4,871.3 1283.7,875.0 1285.0,877.0 1286.3,876.8 1287.6,877.2 1289.1,879.0 1290.6,879.8 1292.2,879.6 1293.8,879.4 1295.3,882.0 1296.9,880.7 1298.5,879.4 1300.2,879.4 1301.8,877.1 1303.4,877.9 1305.0,879.2 1306.6,878.8 1308.2,879.4 1309.7,877.1 1311.2,878.7 1312.7,878.6 1314.1,880.0 1315.5,883.9 1316.9,886.3 1318.2,886.5 1319.5,883.2 1320.8,880.7 1322.1,875.9 1323.4,874.0 1324.8,874.5 1326.2,876.3 1327.6,877.6 1329.1,876.3 1330.6,876.1 1332.1,875.4 1333.6,874.3 1335.2,873.8 1336.7,872.0 1338.2,870.3 1339.8,871.2 1341.3,871.9 1342.8,873.8 1344.4,871.7 1345.9,869.2 1347.5,868.4 1349.0,869.1 1350.6,868.4 1352.1,868.9 1353.7,868.2 1355.2,868.3 1356.8,867.8 1358.3,868.2 1359.9,865.0 1361.4,865.1 1363.0,865.9 1364.5,865.0 1366.1,865.6 1367.6,863.8 1369.2,863.1 1370.7,861.9 1372.2,862.5 1373.8,862.5 1375.3,862.6 1376.9,861.6 1378.4,860.6 1380.0,858.8 1381.5,858.4 1383.1,858.8 1384.6,858.8 1386.2,860.1 1387.7,861.0 1389.2,859.9 1390.7,861.7 1392.2,862.1 1393.7,861.2 1395.2,861.3 1396.6,859.4 1398.1,859.5 1399.7,859.4 1401.2,857.5 1402.8,859.7 1404.3,861.2 1405.9,860.9 1407.4,861.2 1408.9,861.0 1410.5,862.6 1412.0,860.9 1413.5,858.4 1415.1,857.4 1416.6,856.6 1418.2,857.0 1419.9,858.3 1421.6,857.6 1423.2,858.4 1424.4,858.0 1425.3,859.6 1426.1,861.9 1426.9,864.6 1428.1,862.3 1429.4,861.2 1430.9,862.4 1432.6,863.8 1434.3,864.3 1436.0,863.2 1437.7,862.8 1439.3,863.0 1440.8,863.0 1442.4,864.0 1444.0,863.7 1445.6,862.2 1447.2,863.1 1448.8,863.4 1450.4,862.7 1451.9,863.1 1453.5,862.5 1455.1,861.3 1456.7,860.7 1458.3,861.8 1459.9,862.6 1461.5,862.5 1463.1,863.3 1464.6,865.0 1466.2,866.4 1467.8,866.5 1469.3,868.4 1470.9,867.7 1472.5,866.8 1474.0,867.7 1475.6,868.1 1477.2,868.8 1478.7,867.3 1480.3,866.7 1481.9,867.3 1483.5,867.4 1485.1,867.0 1486.7,867.0 1488.3,865.8 1489.8,867.7 1491.3,870.1 1492.9,869.8 1494.4,870.4 1495.9,869.0 1497.5,869.1 1499.1,869.3 1500.7,870.6 1502.4,869.9 1504.0,872.3 1505.6,871.4 1507.2,870.2 1508.7,872.0 1510.3,872.2 1511.8,871.9 1513.3,875.0 1514.7,873.8 1516.2,873.8 1517.7,873.7 1519.2,871.7 1520.7,873.3 1522.2,871.9 1523.7,871.3 1525.2,870.8 1526.7,872.1 1528.2,872.1 1529.8,871.0 1531.3,870.8 1532.9,872.3 1534.5,873.9 1536.1,871.1 1537.7,871.5 1539.3,873.1 1540.9,875.2 1542.5,874.5 1544.1,872.6 1545.7,872.5 1547.3,873.5 1548.9,873.9 1550.5,871.7 1552.1,869.8 1553.6,870.4 1555.1,869.9 1556.7,870.6 1558.2,869.0 1559.6,870.3 1561.1,870.3 1562.6,867.7 1564.0,867.2 1565.4,868.0 1566.8,868.2 1568.2,866.2 1569.6,863.7 1570.9,864.1 1572.3,863.4 1573.7,861.7 1575.1,862.2 1576.5,860.7 1577.9,862.8 1579.3,865.7 1580.8,864.8 1582.4,863.6 1583.9,864.5 1585.5,862.4 1587.1,862.7 1588.8,863.0 1590.4,864.2 1592.0,864.6 1593.6,864.4 1595.2,864.5 1596.8,864.5 1598.4,864.8 1600.0,863.1 1601.6,862.9 1603.2,864.0 1604.8,865.2 1606.4,865.1 1608.0,863.8 1609.6,862.5 1611.2,862.9 1612.8,863.5 1614.4,863.7 1616.0,863.0 1617.6,862.7 1619.2,865.1 1620.8,863.7 1622.4,863.0 1624.0,863.2 1625.6,862.8 1627.1,862.6 1628.7,862.2 1630.3,861.6 1631.9,863.2 1633.4,863.7 1635.0,866.7 1636.6,866.7 1638.2,866.5 1639.8,867.0 1641.5,865.8 1643.1,865.2 1644.7,865.4 1646.3,866.4 1647.9,867.6 1649.4,864.7 1651.0,864.8 1652.6,865.9 1654.1,866.4 1655.6,864.3 1657.1,864.6 1658.6,867.4 1660.2,869.9 1661.7,869.7 1663.2,871.5 1664.8,872.2 1666.3,870.3 1667.9,869.3 1669.5,867.1 1671.1,868.2 1672.6,867.8 1674.2,867.5 1675.7,865.9 1677.2,866.4 1678.7,868.3 1680.2,867.7 1681.8,868.2 1683.3,867.3 1684.9,865.4 1686.5,866.0 1688.1,867.5 1689.7,865.6 1691.2,865.7 1692.8,866.2 1694.4,864.8 1695.9,863.7 1697.5,864.1 1699.0,866.0 1700.5,867.3 1702.1,865.1 1703.6,866.6 1705.1,868.0 1706.6,870.0 1708.1,869.5 1709.7,867.8 1711.3,868.3 1712.8,870.0 1714.4,869.4 1716.0,868.2 1717.6,867.9 1719.2,869.3 1720.9,867.5 1722.5,867.8 1724.1,869.4 1725.7,868.6 1727.3,867.7 1728.9,867.8 1730.5,868.0 1732.1,869.4 1733.8,869.7 1735.4,868.7 1737.1,867.9 1738.8,867.1 1740.4,868.3 1742.1,870.5 1743.7,872.6 1745.3,870.6 1746.9,869.6 1748.5,870.1 1750.0,868.8 1751.5,868.6 1752.9,872.4 1754.3,872.3 1755.6,870.5 1756.8,870.2 1758.0,868.6 1759.3,867.5 1760.7,866.9 1762.2,864.2 1763.7,865.6 1765.3,868.8 1766.9,869.8 1768.5,869.7 1770.1,868.7 1771.7,867.3 1773.3,868.8 1774.8,869.9 1776.4,870.3 1778.0,869.6 1779.6,870.5 1781.2,870.6 1782.8,869.9 1784.4,869.7 1786.0,869.1 1787.6,870.0 1789.2,871.6 1790.8,870.2 1792.4,869.8 1794.0,871.8 1795.6,872.8 1797.2,872.0 1798.8,870.4 1800.3,870.5 1801.9,870.1 1803.4,870.0 1804.9,869.6 1806.4,869.9 1807.9,870.9 1809.4,871.8 1811.0,870.0 1812.5,867.6 1814.1,865.8 1815.7,864.2 1817.3,864.8 1818.9,864.3 1820.5,864.0 1822.1,864.3 1823.7,864.6 1825.2,863.0 1826.8,862.5 1828.4,862.5 1829.9,864.0 1831.5,865.5 1833.0,868.7 1834.6,867.1 1836.1,868.1 1837.7,868.4 1839.2,868.1 1840.8,871.8 1842.3,872.3 1843.9,869.6 1845.5,869.8 1847.1,869.0 1848.7,867.4 1850.3,869.0 1851.9,870.2 1853.4,869.1 1854.8,868.1 1856.3,869.4 1857.8,866.4 1859.3,866.3 1860.8,865.7 1862.3,866.3 1863.9,866.9 1865.5,867.8 1867.1,868.8 1868.7,869.3 1870.3,869.8 1871.8,869.6 1873.4,869.8 1875.0,868.1 1876.5,867.9 1878.1,868.5 1879.7,868.0 1881.2,866.4 1882.8,867.1 1884.4,865.3 1885.9,866.0 1887.5,867.7 1889.1,866.0 1890.7,865.9 1892.3,866.9 1893.9,866.6 1895.4,865.5 1897.0,864.3 1898.6,864.6 1900.2,866.1 1901.8,866.5 1903.4,866.5 1905.0,865.8 1906.6,867.1 1908.2,868.1 1909.8,867.8 1911.4,867.7 1913.0,869.1 1914.6,868.0 1916.2,867.4 1917.8,865.1 1919.4,865.5 1921.0,864.6 1922.6,866.0 1924.2,866.7 1925.8,867.4 1927.4,867.4 1929.0,866.7 1930.6,867.8 1932.2,865.1 1933.8,864.1 1935.4,865.9 1937.0,865.2 1938.6,865.8 1940.2,865.6 1941.8,865.5 1943.4,865.4 1945.0,866.7 1946.6,867.0 1948.1,867.6 1949.7,868.8 1951.3,866.8 1952.9,867.6 1954.5,869.3 1956.1,870.6 1957.6,869.0 1959.2,871.1 1960.8,871.4 1962.4,870.6 1964.0,869.5 1965.6,869.4 1967.2,869.1 1968.8,866.8 1970.4,867.3 1971.9,868.0 1973.5,867.7 1975.1,867.8 1976.7,867.8 1978.3,867.5 1979.9,866.1 1981.5,866.8 1983.1,868.1 1984.7,867.3 1986.3,866.7 1987.9,867.3 1989.5,868.3 1991.1,869.1 1992.8,866.6 1994.4,866.1 1996.0,865.8 1997.6,864.7 1999.2,866.8 2000.8,867.8 2002.4,867.4 2004.0,864.8 2005.5,868.3 2007.1,869.7 2008.7,869.7 2010.2,867.7 2011.7,867.8 2013.3,870.2 2014.8,868.8 2016.4,868.1 2017.9,870.6 2019.5,871.5 2021.1,868.4 2022.7,865.7 2024.3,865.1 2025.8,868.2 2027.4,867.3 2029.0,868.4 2030.6,866.7 2032.2,867.5 2033.8,866.8 2035.4,866.6 2037.0,866.1 2038.6,867.4 2040.2,869.7 2041.8,867.6 2043.4,866.7 2044.9,866.2 2046.5,865.5 2048.1,865.5 2049.7,866.2 2051.3,868.4 2052.9,868.9 2054.5,868.1 2056.1,866.5 2057.7,865.3 2059.3,866.2 2060.9,867.6 2062.5,868.4 2064.1,868.9 2065.7,869.0 2067.3,869.1 2068.9,868.9 2070.5,867.3 2072.1,865.2 2073.7,865.8 2075.3,868.7 2076.9,868.5 2078.5,869.5 2080.1,867.5 2081.7,867.7 2083.3,866.5 2084.9,867.6 2086.5,868.1 2088.1,867.4 2089.7,867.5 2091.3,867.1 2092.9,867.7 2094.5,867.3 2096.1,867.7 2097.7,868.8 2099.3,868.2 2100.9,866.9 2102.5,868.6 2104.1,868.6 2105.7,868.5 2107.3,867.0 2108.9,865.6 2110.5,865.2 2112.1,865.0 2113.6,866.4 2115.2,866.7 2116.8,866.5 2118.4,867.9 2120.0,867.4 2121.5,868.2 2123.1,869.0 2124.7,871.0 2126.3,872.2 2127.8,870.4 2129.4,868.9 2131.0,868.8 2132.5,867.5 2134.1,866.5 2135.7,866.3 2137.2,865.8 2138.8,866.1 2140.4,866.1 2142.0,866.4 2143.6,865.2 2145.1,865.1 2146.7,865.5 2148.3,865.0 2149.9,866.3 2151.5,867.0 2153.1,864.8 2154.7,863.4 2156.3,866.0 2157.9,867.0 2159.5,867.9 2161.1,866.0 2162.7,869.2 2164.3,870.5 2165.9,868.9 2167.5,868.1 2169.1,867.1 2170.7,866.7 2172.3,867.4 2173.9,866.0 2175.5,865.8 2177.1,866.7 2178.7,865.7 2180.3,865.0 2181.9,866.3 2183.5,864.9 2185.1,867.7 2186.7,866.7 2188.2,864.1 2189.8,865.1 2191.4,866.0 2193.0,865.8 2194.5,866.1 2196.1,867.7 2197.6,869.6 2199.2,868.1 2200.8,869.9 2202.4,870.1 2203.9,869.8 2205.5,868.6 2207.1,867.5 2208.7,868.3 2210.3,869.4 2211.8,870.0 2213.4,872.1 2215.0,869.4 2216.6,868.5 2218.2,867.2 2219.8,867.6 2221.4,867.5 2222.9,868.7 2224.5,867.3 2226.1,865.8 2227.7,865.8 2229.3,868.6 2230.8,867.1 2232.4,868.2 2234.0,868.6 2235.5,868.1 2237.1,867.2 2238.7,867.1 2240.3,865.9 2241.8,866.9 2243.4,867.5 2245.0,865.6 2246.6,867.9 2248.2,867.7 2249.8,867.8 2251.4,866.3 2253.0,865.5 2254.6,865.0 2256.2,865.3 2257.8,866.6 2259.3,868.3 2260.9,869.4 2262.5,871.1 2264.0,870.6 2265.6,869.7 2267.2,868.6 2268.8,870.0 2270.3,871.1 2271.9,869.8 2273.5,869.1 2275.1,870.0 2276.7,870.0 2278.3,870.1 2279.8,868.2 2281.4,864.8 2283.0,865.9 2284.6,867.9 2286.2,867.2 2287.8,864.7 2289.4,865.3 2290.9,864.4 2292.5,862.8 2294.1,862.1 2295.7,864.2 2297.3,866.4 2298.9,866.8 2300.4,867.1 2302.0,867.9 2303.6,867.5 2305.2,867.0 2306.8,865.3 2308.4,867.0 2309.9,867.2 2311.5,868.5 2313.1,868.1 2314.7,868.4 2316.3,867.9 2317.9,868.7 2319.5,869.2 2321.1,867.7 2322.6,865.8 2324.2,868.4 2325.8,868.6 2327.4,869.0 2329.0,867.3 2330.6,866.9 2332.2,866.0 2333.8,864.6 2335.4,865.9 2337.0,867.6 2338.6,867.7 2340.2,868.3 2341.8,867.1 2343.4,868.1 2345.0,869.3 2346.6,866.6 2348.2,866.2 2349.8,866.1 2351.4,865.7 2353.0,865.6 2354.6,866.1 2356.2,867.9 2357.8,866.9 2359.4,867.9 2361.0,868.4 2362.6,866.9 2364.2,869.2 2365.7,870.9 2367.3,870.2 2368.9,868.4 2370.5,871.0 2372.1,869.7 2373.7,867.4 2375.3,867.5 2376.9,867.8 2378.4,866.5 2380.0,867.7 2381.6,866.4 2383.2,866.0 2384.8,866.4 2386.4,865.1 2388.0,865.7 2389.5,865.9 2391.1,867.0 2392.7,866.4 2394.3,867.3 2395.9,866.5 2397.5,865.9 2399.1,867.5 2400.7,867.6 2402.3,868.4 2403.9,868.3 2405.5,868.4 2407.1,868.3 2408.7,867.7 2410.3,869.3 2411.9,869.9 2413.5,867.9 2415.1,867.7 2416.7,868.0 2418.3,867.2 2419.9,868.7 2421.5,869.4 2423.1,871.1 2424.7,872.1 2426.3,871.0 2427.8,869.7 2429.4,871.4 2431.0,871.6 2432.5,870.6 2434.1,870.4 2435.6,869.3 2437.2,867.9 2438.7,870.5 2440.3,867.1 2441.9,865.2 2443.4,864.3 2445.0,865.4 2446.6,864.1 2448.2,864.2 2449.8,864.6 2451.4,864.8 2451.7,865.3"/>
<polyline stroke="#0000ff" stroke-width="7.7" points="295.9,914.0 297.8,914.2 299.6,914.0 301.2,912.4 302.5,911.7 303.7,910.5 304.5,910.7 305.3,910.1 306.1,906.8 307.1,906.2 308.6,907.4 310.2,907.4 311.9,908.3 313.7,907.6 315.3,907.5 317.3,909.2 318.3,908.8"/>
<polyline stroke="#0000ff" stroke-width="6.6" points="318.3,908.8 318.4,907.9 318.5,908.0 318.5,907.4 318.6,906.3 318.6,905.1 318.7,904.5 318.7,903.4 318.8,901.6 318.8,900.3 318.8,899.0 318.9,897.2 318.9,895.5 318.9,893.9 318.9,892.6 319.0,890.5 319.0,888.5 319.0,886.9 319.0,884.5 319.0,882.8 319.0,880.6 319.0,878.6 319.1,875.8 319.1,873.5 319.1,872.1 319.1,870.0 319.1,867.9 319.2,865.6 319.2,863.6 319.2,861.0 319.2,859.5 319.3,858.5 319.3,857.5 319.4,856.0 319.4,854.3 319.5,852.9 319.5,851.2 319.6,849.7 319.6,847.6 319.7,845.8 319.8,844.2 319.8,842.1 319.9,840.3 319.9,839.3 320.0,838.1 320.1,836.0 320.1,834.3 320.2,833.0 320.3,830.8 320.3,829.8 320.4,828.5 320.4,826.2 320.5,825.3 320.5,823.5 320.6,822.5 320.6,820.7 320.7,818.8 320.7,817.5 320.8,816.5 320.8,814.5 320.9,812.2 320.9,810.5 320.9,809.5 321.0,807.4 321.0,806.1 321.0,804.3 321.1,802.5 321.1,801.2 321.2,799.9 321.2,797.5 321.2,795.5 321.3,794.5 321.3,793.5 321.3,792.3 321.4,790.3 321.4,788.1 321.5,786.1 321.5,786.0 321.5,784.2 321.6,782.4 321.6,779.9 321.7,778.6 321.7,777.3 321.8,775.4 321.8,773.6 321.9,772.8 322.0,771.0 322.0,769.0 322.1,767.1 322.1,765.3 322.2,764.4 322.2,762.8 322.3,761.0 322.4,759.0 322.4,758.4 322.5,757.1 322.6,755.7 322.6,753.5 322.7,751.0 322.8,749.7 322.8,749.1 322.9,747.5 323.0,745.3 323.1,743.9 323.1,741.8 323.2,740.2 323.3,738.2 323.4,737.1 323.5,735.6 323.6,734.5 323.7,732.7 323.8,730.8 323.9,729.4 324.0,727.2 324.2,724.8 324.3,723.6 324.4,722.5 324.5,721.3 324.6,719.7 324.7,718.4 324.8,717.2 325.0,715.2 325.1,713.8 325.1,711.2 325.2,709.9 325.3,708.0 325.4,706.2 325.5,704.5 325.5,703.3 325.6,701.9 325.6,700.3 325.7,698.5 325.7,696.3 325.8,695.2 325.8,694.3 325.9,693.0 325.9,691.0 326.0,688.9 326.0,687.5 326.1,686.8 326.2,685.6 326.3,683.7 326.4,682.1 326.5,679.7 326.6,678.2 326.8,677.1 327.1,675.2 327.5,673.7 328.0,672.1 328.5,669.8 329.0,668.0 329.6,666.6 330.5,665.0 331.4,663.7 332.0,663.1 332.6,664.6 333.1,665.9 333.5,667.8 333.8,669.9 334.1,671.4 334.3,673.0 334.5,675.1 334.6,677.3 334.8,679.1 335.1,680.7 335.4,680.9 336.5,680.6 338.0,679.7 338.6,678.4 339.0,676.5 339.4,675.4 339.6,673.5 339.7,672.2 339.9,670.1 340.0,668.4 340.1,667.1 340.2,666.0 340.3,664.4 340.4,661.9 340.4,660.6 340.5,659.7 340.5,657.7 340.6,656.1 340.6,654.3 340.6,653.0 340.7,650.7 340.7,649.9 340.8,648.6 340.8,646.6 340.8,645.1 340.9,643.5 340.9,642.0 340.9,640.5 340.9,638.6 341.0,636.8 341.0,635.2 341.0,633.8 341.0,631.5 341.0,630.3 341.1,629.3 341.1,627.7 341.1,626.6 341.1,624.0 341.1,622.6 341.1,621.2 341.1,619.0 341.1,617.0 341.1,615.2 341.1,613.9 341.1,612.5 341.1,610.6 341.1,608.8 341.1,607.1 341.1,606.1 341.1,605.2 341.1,604.2 341.1,602.3 341.1,600.3 341.1,598.7 341.1,596.0 341.1,595.3 341.1,593.7 341.1,592.2 341.1,590.8 341.1,589.3 341.1,587.2 341.1,584.9 341.1,584.4 341.1,582.5 341.1,580.8 341.1,579.7 341.1,579.0 341.1,576.8 341.1,574.9 341.1,573.7 341.1,572.2 341.1,570.2 341.1,568.3 341.1,567.1 341.1,566.1 341.1,563.9 341.1,561.6 341.1,560.7 341.1,558.9 341.1,557.1 341.1,555.8 341.1,554.1 341.1,552.2 341.1,550.6 341.1,549.1 341.1,547.2 341.1,545.7 341.1,544.4 341.1,541.7 341.1,540.5 341.1,539.3 341.1,537.1 341.1,535.6 341.1,534.7 341.1,533.3 341.1,531.8 341.1,529.8 341.1,528.2 341.1,526.7 341.1,525.4 341.1,523.8 341.1,521.9 341.1,520.4 341.1,518.0 341.1,516.8 341.1,515.7 341.1,513.9 341.1,512.5 341.1,510.5 341.1,508.7 341.1,507.3 341.1,505.5 341.1,504.0 341.1,502.5 341.1,501.3 341.1,499.0 341.1,497.1 341.1,496.1 341.1,494.4 341.1,493.0 341.1,491.4 341.1,490.1 341.1,489.5 341.1,487.0 341.1,485.0 341.1,483.7 341.1,481.6 341.1,479.4 341.1,478.1 341.1,476.9 341.1,475.8 341.1,473.8 341.1,472.6 341.1,470.9 341.1,470.0 341.1,467.5 341.1,465.4 341.1,464.0 341.1,462.7 341.1,461.0 341.1,459.3 341.1,457.8 341.1,456.4 341.1,455.6 341.1,453.8 341.1,450.9 341.1,449.4 341.1,448.0 341.1,446.7 341.1,445.5 341.1,444.3 341.1,442.6 341.1,440.4 341.1,438.7 341.1,436.8 341.1,436.0 341.1,434.3 341.1,432.5 341.1,430.8 341.1,429.4 341.1,427.8 341.1,425.5 341.1,423.5 341.1,422.5 341.1,420.0 341.1,418.4 341.2,417.6 341.2,416.4 341.2,414.8 341.2,413.5 341.2,411.6 341.2,409.6 341.2,407.2 341.2,406.4 341.2,405.2 341.2,404.4 341.2,403.1 341.2,400.5 341.2,398.1 341.3,396.1 341.3,395.0 341.3,394.0 341.3,392.7 341.3,390.8 341.3,388.7 341.3,386.9 341.3,385.7 341.4,384.4 341.4,382.9 341.4,381.3 341.4,379.8 341.4,377.6 341.4,376.1 341.4,374.5 341.4,373.4 341.5,370.7 341.5,369.8 341.5,368.8 341.5,366.8 341.5,365.2 341.5,363.5 341.6,361.7 341.6,359.5 341.6,358.6 341.6,357.3 341.6,355.4 341.6,353.4 341.7,352.0 341.7,350.8 341.7,349.1 341.7,346.8 341.7,345.6 341.7,344.1 341.8,342.7 341.8,341.0 341.8,339.9 341.8,338.3 341.8,336.7 341.9,334.9 341.9,333.1 341.9,331.5 341.9,329.9 341.9,328.2 342.0,326.6 342.0,324.9 342.0,323.2 342.0,321.7 342.0,320.3 342.1,318.6 342.1,317.6 342.1,316.2 342.1,314.8 342.1,312.8 342.2,310.4 342.2,308.8 342.2,307.3 342.2,305.8 342.2,304.3 342.3,302.0 342.3,300.5 342.3,299.4 342.3,297.6 342.3,295.8 342.4,293.9 342.4,292.6 342.4,291.3 342.4,289.3 342.5,288.5 342.5,287.1 342.5,285.2 342.5,284.1 342.5,281.7 342.6,279.8 342.6,278.2 342.6,276.7 342.6,275.4 342.6,273.7 342.7,271.8 342.7,270.0 342.7,268.2 342.7,267.0 342.7,265.6 342.8,263.6 342.8,262.1 342.8,260.8 342.8,259.9 342.9,258.4 342.9,256.1 342.9,254.1 342.9,252.9 342.9,251.3 343.0,249.9 343.0,248.5 343.0,247.5 343.1,245.2 343.1,243.5 343.1,241.7 343.2,239.4 343.2,237.9 343.2,237.0 343.3,236.3 343.3,234.4 343.3,232.1 343.4,230.0 343.4,228.3 343.4,227.7 343.4,226.3 343.4,224.3 343.4,222.8 343.5,221.1 343.5,218.9 343.5,218.0 343.5,216.9 343.5,214.9 343.5,213.1 343.5,211.2 343.5,209.3 343.5,208.0 343.5,206.9 343.5,205.2 343.5,203.5 343.5,201.7 343.5,199.3 343.5,198.0 343.5,196.4 343.5,195.2 343.5,193.5 343.5,192.2 343.5,190.7 343.5,188.8 343.5,187.0 343.5,185.8 343.5,184.6 343.5,182.8 343.5,180.8 343.6,179.0 343.8,178.0 344.5,179.6 345.3,180.7 346.0,181.7 346.7,182.7 347.2,184.1 347.7,186.1 348.0,188.1 348.3,190.0 348.6,191.0 348.8,193.0 349.0,194.7 349.1,196.3 349.3,197.7 349.4,198.9 349.5,200.8 349.6,202.4 349.7,204.3 349.8,205.4 349.8,207.1 349.9,208.9 350.0,209.8 350.0,211.2 350.1,213.2 350.2,215.3 350.2,217.0 350.3,218.9 350.4,219.9 350.4,220.8 350.5,222.7 350.6,224.1 350.6,226.4 350.7,228.1 350.7,229.6 350.8,231.5 350.8,232.8 350.9,234.1 350.9,235.6 350.9,237.3 351.0,239.4 351.0,240.6 351.0,242.5 351.0,244.2 351.0,245.1 351.1,246.8 351.1,248.3 351.1,249.9 351.1,252.0 351.1,254.0 351.1,256.0 351.1,257.3 351.2,258.6 351.2,260.0 351.2,261.6 351.2,263.2 351.2,264.9 351.2,266.4 351.2,267.9 351.3,269.2 351.3,271.1 351.3,272.8 351.3,274.6 351.3,276.2 351.3,277.2 351.3,278.5 351.3,280.2 351.3,282.1 351.4,283.1 351.4,284.4 351.4,286.2 351.4,287.9 351.4,290.3 351.4,291.3 351.4,293.5 351.4,295.8 351.4,297.0 351.4,298.3 351.4,299.9 351.5,300.9 351.5,302.5 351.5,304.1 351.5,306.0 351.5,307.8 351.5,309.8 351.5,310.9 351.5,312.0 351.5,314.3 351.5,316.4 351.5,317.6 351.5,318.7 351.5,320.3 351.5,321.6 351.6,323.4 351.6,324.8 351.6,326.1 351.6,327.4 351.6,330.3 351.6,332.7 351.6,333.8 351.6,335.3 351.6,336.8 351.6,338.0 351.6,340.3 351.6,341.5 351.6,342.5 351.6,344.6 351.6,346.1 351.6,347.9 351.6,350.2 351.6,352.0 351.7,352.9 351.7,354.8 351.7,356.3 351.7,357.7 351.7,359.6 351.7,361.0 351.7,362.5 351.7,364.5 351.7,366.0 351.7,367.4 351.7,368.0 351.7,369.5 351.7,371.9 351.7,373.2 351.7,374.9 351.7,376.6 351.7,377.8 351.7,379.5 351.7,381.3 351.8,383.3 351.8,384.5 351.8,386.1 351.8,388.2 351.8,388.8 351.8,390.7 351.8,392.6 351.8,394.4 351.8,395.8 351.8,397.9 351.8,398.9 351.8,400.7 351.8,402.3 351.8,403.5 351.8,405.1 351.8,407.0 351.9,409.3 351.9,410.9 351.9,412.2 351.9,413.6 351.9,415.3 351.9,415.4 351.9,417.2 351.9,419.0 351.9,421.5 351.9,423.4 351.9,425.2 351.9,426.8 351.9,428.0 352.0,428.0 352.0,429.8 352.0,432.7 352.0,434.3 352.0,435.5 352.0,437.3 352.0,438.8 352.0,441.1 352.0,443.0 352.0,444.0 352.1,445.2 352.1,447.1 352.1,448.6 352.1,450.3 352.1,451.5 352.1,453.9 352.1,455.2 352.1,456.6 352.1,457.7 352.2,459.6 352.2,460.8 352.2,462.5 352.2,464.4 352.2,466.0 352.2,468.2 352.2,470.0 352.2,471.1 352.2,472.5 352.3,474.7 352.3,476.3 352.3,477.2 352.3,478.6 352.3,480.3 352.3,481.7 352.3,484.0 352.3,486.1 352.4,487.5 352.4,488.5 352.4,490.3 352.4,492.0 352.4,493.6 352.4,495.0 352.4,497.0 352.4,498.8 352.5,500.7 352.5,502.3 352.5,503.6 352.5,505.4 352.5,506.5 352.5,507.7 352.5,509.6 352.5,510.8 352.6,512.3 352.6,514.4 352.6,515.2 352.6,517.1 352.6,518.5 352.6,520.5 352.6,522.4 352.7,523.8 352.7,525.5 352.7,527.6 352.7,529.0 352.7,531.0 352.7,532.4 352.7,533.6 352.8,534.3 352.8,536.7 352.8,538.8 352.8,540.1 352.8,541.8 352.8,544.0 352.9,545.1 352.9,546.2 352.9,547.6 352.9,549.7 352.9,550.8 352.9,552.9 353.0,555.4 353.0,556.2 353.0,557.0 353.0,558.6 353.0,560.6 353.0,562.1 353.1,563.5 353.1,565.1 353.1,566.8 353.1,568.3 353.1,570.1 353.2,571.2 353.2,573.3 353.2,575.5 353.2,576.9 353.2,577.9 353.3,579.6 353.3,581.3 353.3,583.3 353.3,584.8 353.3,586.5 353.4,587.8 353.4,589.6 353.4,590.7 353.4,592.2 353.5,594.3 353.5,595.8 353.5,597.2 353.5,599.6 353.6,601.0 353.6,602.0 353.6,602.8 353.7,604.5 353.7,607.3 353.7,608.9 353.8,610.4 353.8,611.9 353.8,613.2 353.9,614.3 353.9,616.3 354.0,618.1 354.0,619.9 354.0,621.2 354.1,622.3 354.1,623.6 354.2,625.0 354.2,627.1 354.3,628.7 354.3,630.8 354.4,632.1 354.4,633.7 354.5,636.1 354.5,637.2 354.5,638.4 354.6,641.1 354.6,642.6 354.7,643.6 354.7,644.2 354.8,646.8 354.8,648.8 354.9,650.1 354.9,651.3 355.0,653.3 355.0,654.9 355.1,656.4 355.1,657.5 355.2,659.8 355.2,662.4 355.3,664.1 355.3,665.2 355.4,666.4 355.4,667.8 355.5,668.9 355.5,670.5 355.6,672.1 355.6,673.4 355.7,675.7 355.7,677.1 355.8,679.5 355.8,681.3 355.9,682.0 355.9,683.8 356.0,685.5 356.0,687.4 356.1,688.6 356.1,689.6 356.2,690.4 356.2,693.1 356.3,696.0 356.3,697.1 356.3,697.9 356.4,699.9 356.4,701.6 356.5,703.3 356.5,704.4 356.5,705.9 356.6,708.0 356.6,709.1 356.7,710.6 356.7,712.5 356.7,714.9 356.8,716.2 356.8,717.4 356.9,719.5 356.9,721.5 356.9,722.9 357.0,724.7 357.0,726.1 357.1,727.3 357.1,729.3 357.1,730.9 357.2,732.5 357.2,733.9 357.3,734.9 357.3,736.6 357.3,738.2 357.4,739.8 357.4,741.4 357.5,742.3 357.5,744.0 357.5,745.2 357.6,747.0 357.6,748.8 357.7,750.9 357.7,752.5 357.7,753.8 357.8,755.5 357.8,757.7 357.8,759.6 357.9,761.3 357.9,762.5 358.0,763.7 358.0,765.6 358.0,767.6 358.1,768.7 358.1,770.6 358.2,772.0 358.2,773.7 358.2,775.2 358.3,777.4 358.3,778.1 358.4,779.8 358.4,781.6 358.5,782.9 358.5,784.6 358.6,786.8 358.6,788.0 358.7,789.3 358.8,790.5 358.8,791.6 358.9,793.9 358.9,795.1 359.0,796.7 359.0,798.9 359.1,801.0 359.2,802.5 359.2,804.5 359.3,805.8 359.4,806.4 359.4,807.5 359.5,809.8 359.6,811.9 359.7,814.1 359.7,815.4 359.8,816.8 359.9,818.8 360.0,820.5 360.1,822.1 360.2,823.6 360.3,825.4 360.4,826.3 360.5,827.8 360.6,829.5 360.7,830.7 360.8,832.6 360.9,834.0 361.0,835.9 361.2,837.4 361.3,839.1 361.5,840.6 361.7,841.9 361.8,843.6 362.1,845.3 362.4,847.8 362.7,849.5 363.1,850.7 363.4,850.6 363.8,849.6 364.3,848.2 364.8,846.9 365.3,844.7 365.7,842.7 365.9,840.6 366.2,839.5 366.4,838.2 366.6,836.8 366.8,834.9 366.9,834.3 367.1,832.6 367.2,830.7 367.4,828.5 367.5,827.2 367.7,825.4 367.8,823.8 368.0,822.5 368.1,820.8 368.3,819.5 368.4,818.5 368.6,817.0 368.7,815.2 368.9,813.7 369.1,811.3 369.2,809.3 369.4,808.2 369.5,806.8 369.7,804.8 369.8,803.5 370.0,802.2 370.1,801.2 370.3,799.2 370.5,797.5 370.6,795.8 370.8,794.3 370.9,792.7 371.1,791.0 371.3,789.6 371.5,787.9 371.7,786.1 371.9,784.3 372.0,782.9 372.2,781.0 372.5,779.2 372.7,777.7 372.9,775.6 373.1,774.1 373.3,772.4 373.5,771.9 373.7,770.3 373.9,768.6 374.1,767.2 374.3,765.4 374.5,763.5 374.6,761.7 374.8,759.9 375.0,758.6 375.2,757.4 375.4,755.7 375.5,753.6 375.7,752.0 375.9,750.4 376.1,749.4 376.2,748.2 376.4,746.2 376.6,743.5 376.8,741.4 377.0,740.7 377.2,739.5 377.4,737.8 377.6,736.4 377.9,735.1 378.1,732.5 378.3,731.5 378.6,730.2 378.8,729.1 379.1,727.7 379.3,726.2 379.6,724.6 379.8,722.1 380.1,720.8 380.3,719.4 380.5,717.9 380.7,716.5 380.9,714.7 381.1,712.9 381.3,711.3 381.6,708.6 381.8,707.3 382.0,707.2 382.2,705.9 382.4,703.4 382.6,701.0 382.8,699.7 383.1,698.5 383.3,696.3 383.5,695.0 383.8,694.5 384.0,692.8 384.3,691.4 384.5,689.5 384.8,688.2 385.0,685.7 385.3,683.7 385.6,682.9 385.8,681.8 386.1,680.0 386.4,678.7 386.6,676.5 386.9,674.6 387.2,673.8 387.5,673.0 387.8,671.1 388.0,668.5 388.3,666.6 388.6,664.6 388.9,663.7 389.2,663.0 389.5,660.3 389.8,658.8 390.1,657.7 390.4,656.1 390.8,654.4 391.1,652.7 391.4,651.0 391.8,649.8 392.1,648.5 392.5,646.6 392.9,645.0 393.3,643.6 393.7,641.8 394.2,639.6 394.7,638.7 395.2,637.6 395.7,636.2 396.2,634.4 396.7,632.5 397.3,631.6 397.8,630.1 398.4,628.4 398.9,626.7 399.4,625.8 400.0,623.7 400.5,622.1 401.1,621.2 401.6,619.5 402.2,618.3 402.7,617.0 403.3,615.3 403.9,614.5 404.5,613.0 405.1,610.7 405.7,609.0 406.3,607.6 407.0,605.8 407.6,604.6 408.3,603.4 408.9,601.7 409.6,600.0 410.2,598.6 410.8,598.1 411.3,596.7 411.9,595.3 412.4,593.1 412.9,591.1 413.4,589.7 413.9,587.7 414.4,585.9 414.8,584.8 415.3,583.6 415.8,582.1 416.3,580.5 416.9,579.8 417.4,578.2 417.9,576.1 418.4,574.2 418.9,571.9 419.4,570.9 419.9,569.3 420.6,567.7 421.3,566.9 422.1,565.8 423.2,564.6 424.6,563.3 426.1,562.4 427.7,561.8 429.3,561.0 430.8,560.8 432.4,561.5 434.0,562.3 435.6,562.3 437.1,562.8 438.5,563.6 439.7,564.9 440.8,566.0 441.8,567.7 442.8,568.3 443.7,570.0 444.4,571.9 445.1,573.0 445.6,574.4 446.1,575.8 446.6,577.1 447.0,578.3 447.4,580.6 447.8,582.5 448.3,583.3 448.7,583.8 449.3,585.9 449.8,588.5 450.4,590.1 451.0,592.1 451.5,594.0 452.1,595.3 452.5,596.0 452.9,597.7 453.3,598.8 453.6,600.7 453.9,602.3 454.2,603.2 454.4,605.5 454.7,606.9 454.9,608.3 455.2,609.6 455.5,611.2 455.9,612.8 456.2,614.8 456.6,615.9 457.1,616.9 457.5,618.1 457.9,620.0 458.4,621.8 458.9,623.8 459.3,625.5 459.8,626.9 460.2,628.6 460.6,630.3 461.0,631.5 461.4,633.0 461.7,634.2 462.1,635.7 462.4,637.3 462.8,639.1 463.1,641.0 463.5,642.2 463.8,643.7 464.1,645.1 464.4,646.1 464.8,647.8 465.1,649.8 465.4,651.5 465.7,653.4 466.1,655.3 466.4,656.6 466.7,658.3 467.0,660.2 467.3,661.9 467.6,663.2 467.9,664.7 468.2,666.5 468.5,668.4 468.9,669.7 469.2,670.4 469.5,671.0 469.8,672.6 470.1,674.8 470.4,677.7 470.8,678.8 471.1,679.9 471.5,681.3 471.8,682.8 472.2,684.6 472.6,686.1 473.0,687.4 473.4,689.0 473.9,690.6 474.3,692.4 474.8,693.5 475.2,694.9 475.7,696.5 476.2,698.1 476.7,699.7 477.3,701.7 477.8,703.6 478.4,704.6 479.0,705.7 479.6,707.1 480.2,708.4 480.9,709.6 481.5,711.1 482.2,713.3 482.8,714.2 483.6,715.3 484.3,717.3 485.1,718.8 485.8,720.6 486.6,721.9 487.4,723.2 488.2,724.6 488.9,725.9 489.6,727.5 490.3,729.2 491.0,730.7 491.7,731.7 492.5,732.9 493.3,734.2 494.2,735.2 495.2,736.4 496.3,738.0 497.5,739.5 498.7,740.1 499.8,741.0 500.9,742.7 501.9,745.3 503.0,746.7 504.0,747.4 505.1,748.3 506.4,749.1 507.8,748.9 509.5,748.3 511.3,747.7 512.2,747.5 512.4,747.7 512.6,747.9 512.8,749.2 513.0,750.4 513.1,751.9 513.3,753.5 513.4,754.9 513.5,756.6 513.6,757.8 513.6,760.0 513.7,762.6 513.8,765.4 513.8,767.5 513.9,769.0 513.9,770.9 513.9,773.5 514.0,775.7 514.0,776.9 514.1,778.3 514.1,779.9 514.2,781.7 514.3,783.0 514.3,784.5 514.4,786.4 514.4,787.4 514.4,788.2 514.5,790.4 514.5,792.3 514.6,794.3 514.6,795.8 514.6,797.8 514.7,800.0 514.7,800.9 514.7,802.2 514.8,803.7 514.8,804.8 514.9,806.4 514.9,807.9 514.9,810.0 515.0,811.8 515.0,813.9 515.0,815.6 515.1,816.6 515.1,818.3 515.1,820.2 515.2,821.5 515.2,823.0 515.3,824.7 515.3,825.9 515.3,828.3 515.4,829.7 515.4,830.9 515.4,833.0 515.5,834.6 515.5,836.2 515.5,837.0 515.6,838.3 515.6,839.5 515.6,842.4 515.7,844.6 515.7,845.4 515.8,846.6 515.8,848.4 515.9,850.9 515.9,852.7 515.9,854.2 516.0,855.3 516.0,856.5 516.1,858.0 516.2,860.3 516.2,861.8 516.3,863.8 516.3,865.6 516.4,866.6 516.5,868.0 516.5,868.9 516.6,870.3 516.7,872.6 516.8,874.3 516.9,875.8 517.0,877.5 517.2,879.1 517.4,881.4 517.6,882.6 517.9,884.4 518.2,886.9 518.6,887.6 518.9,887.0 519.3,885.9 519.8,884.3 520.2,882.4 520.7,880.1 521.0,878.2 521.4,876.8 521.7,875.2 521.9,873.5 522.2,872.1 522.4,870.6 522.6,868.9 522.9,868.1 523.2,866.7 523.6,864.9 524.0,863.5 524.5,860.8 525.2,858.8 526.0,857.3 526.9,856.9 527.9,855.6 529.0,854.8 530.2,854.9 531.6,855.0 533.2,855.3 534.7,856.9"/>
<polyline stroke="#0000ff" stroke-width="7.7" points="534.7,856.9 535.9,859.0 536.9,860.6 537.8,861.4 538.7,863.2 539.5,863.7 540.2,864.7 541.0,867.7 541.7,868.7 542.4,870.2 543.1,872.1 543.7,872.8 544.4,873.7 545.2,875.7 546.0,876.9 547.0,877.1 548.0,878.1 549.2,880.0 550.4,882.4 551.6,882.9 552.9,884.1 554.2,886.9 555.7,887.8 557.2,888.2 558.8,887.3 560.2,886.3 561.7,886.0 563.1,886.2 564.5,884.3 565.9,881.9 567.4,880.7 568.8,880.0 570.3,880.5 571.7,878.5 573.2,878.5 574.6,878.4 575.9,878.1 577.2,877.2 578.4,876.8 579.8,876.7 581.3,876.7 582.9,874.9 584.5,875.1 586.2,875.3 587.8,874.8 589.3,875.2 590.9,872.4 592.4,872.4 593.9,871.9 595.3,872.6 596.8,872.0 598.2,871.0 599.7,869.2 601.0,869.2 602.4,868.7 603.8,867.6 605.0,865.6 606.2,863.9 607.2,863.7 608.2,862.5 609.2,859.6 610.3,858.6 611.3,859.1 612.3,861.8 613.3,863.2 614.4,867.9 615.5,868.7 616.6,869.4 618.0,869.3 619.4,868.8 621.0,866.1 622.6,865.8 624.2,865.8 625.9,867.9 627.4,868.5 628.9,868.3 630.4,868.0 631.8,868.0 633.3,866.2 634.7,867.5 636.1,869.7 637.5,871.3 638.9,870.7 640.2,868.9 641.5,872.3 642.8,873.4 644.1,874.5 645.4,875.9 646.8,877.1 648.2,877.3 649.7,876.9 651.2,878.0 652.8,877.5 654.4,880.1 656.1,879.8 657.6,878.8 659.2,880.7 660.7,881.8 662.1,882.1 663.4,880.6 664.7,881.9 666.1,881.7 667.4,882.4 668.7,884.7 670.0,887.0 671.3,887.1 672.7,888.2 674.1,887.5 675.5,889.6 676.9,891.4 678.2,892.5 679.5,892.3 680.7,893.5 681.8,894.0 683.0,896.4 684.2,895.7 685.5,895.8 687.0,896.5 688.6,898.7 690.3,899.2 691.8,902.2 693.2,901.0 694.4,898.8 695.5,899.0 696.5,901.9 697.4,904.5 698.3,906.7 699.3,907.4 700.3,908.6 701.5,910.5 702.7,911.1 704.2,913.2 705.7,912.4 707.3,910.7 708.8,909.5 710.3,909.7 711.9,909.3 713.4,911.0 714.9,911.7 716.4,910.7 717.9,909.5 719.5,909.2 721.0,908.4 722.6,907.5 724.2,906.6 725.7,907.2 727.3,908.9 728.9,908.7 730.4,908.3 732.0,909.3 733.6,909.8 735.1,910.6 736.7,910.2 738.3,909.7 739.9,910.3 741.6,907.9 743.2,907.6 744.8,908.5 746.4,908.8 747.9,907.2 749.5,909.3 751.0,909.3 752.4,907.2 753.9,908.3 755.4,905.9 756.9,906.2 758.4,904.4 760.0,905.5 761.6,909.0 763.3,908.5 764.9,907.2 766.5,907.1 768.1,906.3 769.6,904.5 771.2,903.6 772.7,905.5 774.2,904.8 775.7,902.9 777.2,901.6 778.7,901.3 780.1,900.1 781.6,900.0 783.0,900.3 784.3,903.0 785.7,902.4 787.1,903.9 788.4,905.7 789.8,907.2 791.2,908.1 792.6,907.8 794.0,907.8 795.4,905.1 796.9,904.7 798.3,906.4 799.8,903.7 801.3,903.9 802.8,903.8 804.3,902.9 805.9,903.8 807.5,905.0 809.2,902.8 810.8,903.3 812.4,903.9 814.0,902.1 815.7,902.0 817.2,902.5 818.8,902.7 820.4,902.0 821.9,901.5 823.5,901.1 825.0,899.9 826.5,900.1 828.1,898.2 829.6,897.6 831.2,898.3 832.8,897.8 834.3,898.5 835.9,898.5 837.5,897.6 839.1,899.0 840.7,899.2 842.3,898.3 843.9,898.7 845.5,900.4 847.1,900.8 848.7,899.8 850.3,898.1 851.9,898.2 853.5,898.9 855.1,898.5 856.7,899.4 858.3,900.0 859.9,898.6 861.5,899.9 863.1,900.3 864.7,897.7 866.3,898.8 867.9,901.4 869.5,900.6 871.1,899.5 872.7,897.1 874.3,897.7 875.9,898.8 877.5,899.5 879.1,901.6 880.7,900.1 882.3,900.3 883.9,900.6 885.4,901.8 887.0,901.3 888.5,901.6 890.1,902.1 891.6,902.1 893.2,902.0 894.7,904.7 896.3,904.6 897.8,904.4 899.4,903.5 901.0,906.2 902.5,907.1 904.1,907.0 905.7,908.5 907.3,906.4 908.9,907.1 910.5,907.0 912.0,907.4 913.6,906.9 915.2,904.2 916.8,904.9 918.4,908.9 920.0,907.2 921.6,906.7 923.2,906.3 924.8,907.2 926.4,906.9 928.0,906.4 929.6,905.9 931.2,905.6 932.8,906.3 934.4,906.8 936.0,905.7 937.6,904.5 939.2,904.7 940.8,904.3 942.4,904.3 944.0,906.6 945.6,907.5 947.3,906.5 948.9,907.9 950.5,908.1 952.1,908.7 953.6,908.7 955.2,906.6 956.8,906.5 958.3,907.0 959.8,909.4 961.3,908.9 962.8,907.2 964.3,907.1 965.8,907.7 967.3,906.3 968.7,905.1 970.2,905.5 971.7,907.6 973.2,907.7 974.7,909.0 976.2,909.0 977.7,908.4 979.2,907.0 980.7,908.5 982.3,909.5 983.8,909.9 985.4,909.5 986.9,906.3 988.5,904.1 990.0,906.0 991.6,907.6 993.2,906.3 994.7,904.7 996.3,903.4 997.9,904.5 999.5,904.6 1001.1,905.4 1002.7,905.4 1004.3,904.0 1005.9,904.5 1007.5,905.0 1009.1,905.6 1010.7,906.7 1012.3,907.1 1013.9,906.5 1015.5,905.4 1017.1,904.7 1018.7,905.2 1020.3,903.9 1021.9,903.1 1023.5,904.2 1025.1,905.8 1026.7,904.2 1028.3,905.7 1029.9,903.9 1031.5,903.1 1033.1,904.0 1034.7,906.9 1036.3,904.7 1037.9,902.8 1039.5,905.5 1041.1,907.2 1042.7,907.0 1044.3,905.2 1045.9,904.6 1047.5,905.2 1049.1,906.9 1050.7,907.0 1052.3,905.5 1053.9,904.6 1055.5,905.4 1057.1,903.7 1058.7,903.0 1060.3,903.6 1061.9,903.7 1063.5,904.5 1065.1,903.7 1066.7,904.5 1068.3,903.2 1069.9,903.1 1071.5,903.2 1073.1,904.6 1074.7,906.3 1076.3,906.3 1077.9,905.1 1079.5,903.0 1081.1,903.3 1082.7,903.1 1084.3,903.0 1085.9,903.3 1087.5,904.3 1089.1,904.0 1090.7,903.2 1092.3,903.1 1093.9,903.5 1095.5,903.7 1097.1,903.8 1098.7,904.8 1100.2,904.6 1101.8,904.6 1103.4,904.7 1104.9,905.4 1106.5,903.7 1108.0,904.8 1109.6,905.9 1111.1,907.3 1112.7,906.9 1114.3,905.6 1115.9,906.3 1117.5,908.0 1119.1,906.9 1120.7,906.6 1122.3,906.4 1123.9,904.5 1125.5,905.9 1127.1,907.4 1128.7,906.1 1130.3,905.2 1131.9,903.1 1133.5,905.0 1135.1,907.7 1136.7,908.1 1138.2,906.8 1139.8,908.0 1141.4,907.1 1143.0,905.8 1144.6,907.8 1146.2,909.4 1147.8,910.4 1149.4,909.7 1151.0,908.8 1152.5,909.6 1154.1,909.1 1155.7,905.6 1157.3,906.0 1158.9,905.7 1160.4,905.4 1162.0,904.9 1163.6,906.8 1165.2,906.5 1166.8,906.2 1168.4,906.8 1170.0,904.8 1171.6,905.5 1173.2,905.5 1174.8,904.4 1176.4,905.5 1178.0,907.1 1179.6,907.8 1181.2,906.2 1182.8,905.0 1184.4,905.7 1186.0,907.6 1187.6,906.2 1189.2,905.3 1190.8,905.8 1192.4,906.1 1194.0,904.6 1195.6,905.9 1197.2,907.4 1198.8,907.2 1200.4,904.6 1202.0,903.2 1203.6,904.7 1205.2,905.6 1206.8,906.0 1208.4,907.2 1210.0,907.6 1211.6,906.8 1213.2,904.7 1214.8,902.8 1216.4,902.1 1218.0,904.6 1219.6,905.4 1221.2,907.3 1222.8,908.5 1224.4,906.4 1226.0,906.9 1227.6,908.0 1229.2,907.1 1230.8,905.3 1232.4,904.8 1234.0,903.8 1235.6,906.0 1237.2,907.3 1238.8,907.9 1240.4,906.9 1242.0,906.7 1243.6,907.8 1245.2,905.4 1246.8,906.0 1248.4,904.6 1250.0,904.9 1251.6,904.5 1253.2,906.0 1254.8,907.0 1256.4,906.6 1257.9,906.1 1259.5,907.6 1261.1,907.1 1262.7,906.0 1264.3,905.7 1265.9,906.1 1267.5,906.2 1269.1,907.2 1270.7,906.3 1272.3,906.9 1273.9,908.1 1275.5,906.8 1277.1,907.4 1278.7,908.3 1280.3,908.6 1281.9,908.9 1283.5,908.0 1285.1,908.4 1286.7,907.7 1288.3,907.1 1289.9,906.8 1291.5,905.5 1293.0,906.1 1294.6,906.8 1296.2,906.4 1297.8,905.2 1299.4,907.3 1301.0,906.5 1302.6,907.4 1304.2,907.5 1305.8,907.1 1307.4,907.2 1309.0,905.9 1310.6,907.1 1312.2,906.5 1313.8,905.9 1315.4,904.7 1317.0,905.2 1318.6,905.6 1320.2,905.0 1321.8,904.5 1323.4,903.9 1325.0,902.7 1326.6,905.1 1328.2,904.2 1329.8,904.9 1331.3,905.8 1332.9,905.4 1334.5,903.5 1336.0,904.9 1337.6,906.5 1339.2,904.9 1340.7,903.5 1342.3,904.6 1343.8,907.4 1345.4,907.7 1346.9,907.2 1348.5,910.1 1350.0,910.2 1351.5,909.7 1353.0,910.4 1354.5,911.4 1356.0,910.9 1357.4,910.7 1358.8,909.1 1360.2,907.1 1361.6,906.8 1363.1,907.0 1364.5,904.1 1366.0,904.6 1367.5,906.7 1369.0,904.6 1370.6,903.4 1372.1,906.4 1373.7,907.8 1375.3,908.7 1376.8,909.1 1378.4,907.9 1380.0,907.0 1381.6,905.4 1383.3,904.7 1384.9,906.1 1386.5,906.4 1388.1,906.0 1389.7,904.3 1391.4,906.1 1393.0,908.3 1394.6,912.3 1396.2,913.2 1397.8,911.5 1399.4,908.6 1401.0,907.4 1402.6,909.5 1404.1,909.3 1405.7,909.0 1407.3,908.1 1408.8,908.5 1410.3,909.0 1411.9,908.0 1413.4,908.6 1414.9,908.9 1416.5,907.8 1418.0,907.4 1419.6,908.2 1421.1,905.4 1422.7,905.0 1424.3,906.1 1425.8,907.6 1427.4,907.6 1429.0,906.7 1430.6,906.3 1432.2,906.0 1433.8,905.7 1435.3,906.1 1436.9,906.6 1438.5,907.6 1440.1,908.2 1441.8,907.1 1443.4,907.0 1445.0,907.4 1446.6,906.9 1448.2,907.4 1449.8,910.2 1451.4,909.9 1453.0,908.2 1454.6,908.3 1456.2,908.2 1457.8,908.0 1459.4,907.5 1461.0,908.3 1462.6,906.7 1464.2,907.6 1465.8,907.8 1467.4,907.6 1469.0,908.9 1470.6,907.9 1472.2,906.0 1473.8,907.3 1475.4,907.7 1477.0,908.3 1478.6,907.0 1480.2,905.0 1481.8,903.3 1483.4,905.2 1485.0,906.8 1486.6,907.2 1488.2,905.6 1489.8,905.4 1491.4,905.5 1492.9,904.2 1494.5,905.6 1496.1,905.5 1497.7,905.0 1499.3,905.9 1500.9,905.5 1502.5,904.4 1504.1,905.3 1505.7,905.5 1507.3,907.0 1508.9,908.5 1510.5,907.4 1512.1,907.8 1513.7,906.6 1515.3,907.3 1516.9,906.6 1518.5,907.2 1520.1,908.1 1521.6,909.3 1523.2,906.0 1524.8,905.9 1526.4,909.0 1528.0,906.5 1529.6,906.3 1531.2,906.3 1532.8,908.5 1534.4,909.5 1536.0,909.0 1537.6,908.1 1539.2,908.2 1540.8,908.7 1542.4,908.2 1544.0,907.6 1545.6,906.5 1547.2,905.9 1548.8,906.4 1550.4,906.9 1552.0,906.0 1553.6,905.1 1555.2,904.5 1556.8,906.5 1558.4,905.3 1560.0,906.3 1561.6,906.0 1563.2,907.1 1564.8,905.4 1566.4,903.1 1568.0,901.5 1569.6,901.2 1571.1,903.9 1572.7,904.9 1574.3,905.6 1575.9,905.2 1577.5,904.5 1579.1,905.3 1580.7,905.1 1582.3,903.4 1583.9,903.3 1585.5,902.5 1587.1,902.6 1588.7,903.8 1590.3,904.2 1591.9,904.1 1593.5,904.3 1595.1,904.6 1596.7,903.3 1598.3,903.2 1599.9,904.9 1601.5,905.3 1603.1,904.9 1604.7,904.1 1606.3,904.8 1607.9,903.2 1609.5,903.2 1611.1,904.7 1612.7,904.4 1614.3,905.3 1615.9,906.1 1617.5,907.0 1619.1,906.8 1620.7,904.4 1622.3,903.2 1623.9,906.0 1625.5,906.1 1627.1,903.8 1628.7,903.0 1630.3,905.0 1631.9,903.4 1633.5,904.3 1635.1,905.0 1636.6,904.7 1638.2,903.8 1639.8,905.4 1641.4,905.6 1643.0,905.8 1644.6,905.9 1646.1,905.3 1647.7,904.7 1649.3,906.4 1650.9,907.9 1652.4,909.7 1654.0,908.1 1655.6,907.0 1657.2,906.9 1658.8,906.6 1660.3,907.6 1661.9,908.2 1663.5,907.5 1665.1,906.9 1666.7,906.2 1668.3,907.3 1669.8,907.5 1671.4,907.1 1673.0,905.6 1674.6,906.3 1676.2,906.4 1677.7,906.7 1679.3,906.2 1680.9,907.1 1682.5,906.7 1684.1,906.6 1685.6,905.0 1687.2,904.8 1688.8,904.3 1690.4,903.9 1692.0,903.8 1693.5,905.1 1695.1,903.6 1696.7,902.1 1698.2,902.7 1699.8,903.8 1701.3,904.3 1702.8,904.5 1704.4,905.9 1705.9,906.7 1707.4,906.7 1708.9,904.6 1710.4,904.5 1711.9,907.7 1713.4,909.1 1714.8,908.4 1716.3,907.8 1717.8,905.3 1719.3,903.5 1720.8,903.2 1722.2,901.7 1723.7,903.3 1725.1,905.3 1726.5,904.7 1727.9,906.3 1729.4,905.0 1730.9,905.8 1732.4,904.1 1734.0,904.7 1735.6,904.3 1737.2,904.3 1738.8,905.5 1740.4,902.7 1742.0,903.4 1743.6,904.4 1745.2,905.2 1746.8,902.0 1748.4,901.6 1749.9,902.4 1751.5,902.6 1752.9,902.0 1754.4,905.6 1755.9,906.2 1757.4,904.9 1758.9,905.8 1760.4,908.4 1761.9,907.1 1763.4,909.4 1765.0,909.2 1766.6,908.0 1768.1,907.6 1769.7,906.9 1771.3,906.0 1772.9,907.2 1774.5,906.7 1776.1,906.3 1777.7,905.3 1779.4,905.9 1781.0,907.2 1782.6,906.8 1784.2,905.8 1785.8,906.3 1787.4,906.4 1789.1,904.9 1790.7,906.2 1792.3,905.1 1793.9,904.1 1795.5,905.5 1797.0,907.5 1798.6,906.0 1800.2,905.9 1801.8,905.4 1803.4,907.2 1805.0,908.0 1806.6,908.8 1808.1,906.4 1809.7,904.5 1811.3,906.1 1812.9,907.5 1814.5,908.5 1816.1,908.2 1817.7,909.2 1819.2,908.8 1820.8,910.0 1822.4,908.3 1824.0,908.6 1825.6,907.5 1827.2,906.6 1828.8,907.8 1830.5,907.7 1832.1,906.6 1833.7,907.0 1835.3,907.0 1836.9,906.8 1838.4,906.3 1840.0,905.8 1841.6,907.1 1843.2,906.6 1844.8,908.5 1846.3,906.4 1847.9,905.6 1849.4,905.0 1850.9,905.4 1852.5,903.4 1854.0,904.3 1855.6,904.9 1857.2,902.0 1858.8,903.0 1860.3,902.0 1861.9,902.1 1863.5,899.9 1865.1,900.6 1866.7,904.4 1868.3,905.4 1869.9,904.9 1871.5,904.2 1873.1,904.2 1874.7,904.7 1876.3,905.6 1877.9,906.4 1879.5,905.1 1881.1,905.6 1882.7,905.6 1884.3,905.5 1885.9,905.1 1887.5,904.0 1889.1,904.5 1890.7,904.6 1892.3,903.7 1893.9,905.7 1895.5,904.8 1897.1,904.0 1898.6,905.3 1900.2,905.0 1901.8,900.9 1903.4,899.8 1905.0,900.2 1906.6,901.3 1908.2,901.1 1909.8,901.7 1911.4,903.3 1913.0,904.9 1914.6,906.8 1916.2,903.7 1917.8,901.5 1919.4,902.1 1921.0,901.9 1922.6,902.1 1924.2,904.1 1925.8,901.9 1927.4,901.6 1929.0,902.7 1930.5,903.5 1932.1,907.4 1933.7,907.1 1935.3,906.3 1936.9,905.7 1938.5,904.9 1940.0,905.7 1941.6,906.6 1943.2,905.5 1944.8,905.5 1946.4,906.6 1948.0,906.9 1949.6,906.2 1951.2,906.3 1952.8,905.4 1954.3,905.9 1955.9,906.9 1957.5,905.7 1959.1,907.5 1960.7,907.8 1962.3,907.7 1963.9,906.6 1965.5,904.7 1967.1,905.7 1968.7,903.6 1970.3,904.3 1972.0,907.5 1973.6,907.7 1975.2,905.4 1976.8,905.1 1978.4,904.9 1980.0,906.0 1981.6,905.9 1983.2,908.0 1984.7,908.6 1986.3,905.9 1987.9,906.9 1989.5,910.0 1991.1,908.9 1992.7,907.3 1994.3,908.0 1995.9,906.6 1997.5,905.4 1999.1,905.5 2000.7,905.4 2002.3,904.3 2003.9,903.8 2005.5,902.1 2007.1,904.1 2008.7,905.2 2010.3,904.3 2011.9,903.4 2013.5,905.6 2015.1,906.6 2016.7,906.8 2018.3,905.2 2019.9,905.7 2021.5,905.9 2023.1,905.4 2024.7,903.4 2026.3,905.2 2027.9,906.5 2029.5,905.3 2031.1,904.7 2032.7,905.4 2034.3,904.9 2035.9,904.8 2037.5,906.6 2039.1,907.4 2040.7,907.0 2042.3,907.0 2043.9,907.8 2045.5,908.2 2047.1,909.3 2048.6,907.8 2050.2,905.0 2051.8,904.9 2053.4,906.4 2055.0,905.5 2056.6,907.6 2058.2,907.4 2059.8,905.5 2061.4,904.3 2063.0,905.0 2064.6,905.6 2066.2,907.3 2067.7,908.3 2069.3,907.8 2070.9,905.5 2072.5,905.0 2074.1,907.4 2075.7,906.9 2077.3,905.2 2078.9,903.5 2080.5,904.0 2082.1,905.4 2083.7,905.9 2085.3,907.7 2086.9,906.4 2088.5,904.0 2090.1,903.8 2091.7,903.2 2093.3,902.6 2094.9,903.7 2096.5,903.3 2098.1,905.1 2099.7,906.5 2101.3,904.9 2102.9,904.8 2104.5,904.5 2106.1,905.4 2107.7,905.3 2109.3,905.8 2110.9,904.7 2112.5,903.2 2114.1,904.4 2115.7,905.3 2117.3,903.3 2118.9,903.8 2120.5,903.3 2122.1,903.8 2123.7,904.3 2125.3,903.8 2126.9,904.7 2128.5,906.3 2130.1,906.8 2131.6,904.3 2133.2,905.8 2134.8,908.6 2136.4,909.2 2138.0,906.9 2139.5,907.4 2141.1,907.1 2142.7,907.7 2144.3,907.7 2145.9,907.7 2147.5,908.6 2149.1,907.6 2150.7,906.3 2152.3,907.6 2153.9,907.5 2155.5,907.1 2157.1,906.7 2158.7,906.8 2160.3,904.5 2161.9,905.2 2163.5,904.5 2165.1,904.9 2166.7,904.4 2168.3,906.0 2169.9,906.9 2171.5,907.6 2173.1,907.3 2174.7,906.3 2176.3,907.8 2177.9,907.6 2179.5,904.8 2181.1,903.5 2182.7,904.3 2184.3,903.8 2185.9,903.3 2187.4,901.6 2189.0,903.5 2190.6,903.4 2192.2,904.0 2193.8,905.3 2195.4,904.4 2197.0,905.2 2198.6,905.6 2200.2,905.8 2201.8,906.4 2203.4,906.0 2205.0,903.7 2206.6,902.3 2208.2,903.9 2209.8,905.3 2211.4,905.9 2213.0,906.4 2214.6,905.4 2216.2,905.1 2217.8,904.9 2219.4,903.7 2221.0,904.4 2222.6,902.4 2224.2,901.4 2225.8,902.6 2227.4,905.0 2229.0,904.8 2230.6,904.2 2232.2,902.2 2233.8,902.8 2235.4,905.1 2237.0,903.4 2238.6,903.7 2240.2,903.5 2241.8,904.2 2243.3,903.5 2244.9,902.5 2246.5,900.8 2248.1,902.0 2249.7,901.7 2251.3,902.0 2252.8,903.5 2254.4,903.9 2256.0,904.6 2257.5,905.1 2259.1,906.1 2260.7,907.2 2262.2,908.1 2263.8,907.8 2265.3,905.9 2266.9,904.2 2268.4,904.6 2269.9,903.9 2271.4,904.7 2272.9,903.4 2274.4,902.2 2276.0,903.5 2277.5,901.9 2279.1,901.3 2280.7,902.2 2282.3,900.8 2283.9,899.8 2285.5,899.1 2287.1,898.5 2288.7,900.2 2290.3,901.5 2291.9,902.4 2293.5,903.5 2295.1,903.9 2296.7,904.8 2298.3,904.3 2299.9,902.7 2301.5,903.4 2303.1,903.3 2304.7,904.4 2306.3,904.3 2307.9,903.4 2309.4,904.1 2311.0,904.8 2312.6,905.7 2314.1,906.0 2315.7,906.7 2317.3,907.9 2318.8,909.5 2320.4,905.7 2322.0,907.0 2323.6,906.5 2325.1,906.6 2326.7,908.0 2328.3,906.8 2329.9,906.3 2331.5,906.4 2333.1,905.9 2334.7,905.3 2336.3,903.7 2337.9,903.3 2339.5,904.2 2341.1,905.9 2342.7,906.2 2344.3,905.3 2345.9,903.5 2347.4,901.5 2349.0,901.9 2350.6,903.7 2352.2,903.2 2353.8,903.5 2355.4,903.0 2357.0,903.1 2358.5,901.8 2360.1,901.6 2361.7,902.3 2363.3,904.1 2364.8,906.3 2366.4,902.8 2367.9,903.3 2369.5,903.9 2371.0,904.0 2372.5,903.0 2374.1,902.3 2375.6,903.1 2377.2,905.5 2378.8,907.5 2380.4,905.8 2381.9,905.6 2383.5,907.1 2385.1,907.8 2386.7,906.9 2388.3,906.1 2389.9,905.5 2391.5,904.7 2393.1,905.3 2394.7,903.9 2396.3,903.2 2397.9,903.1 2399.5,904.9 2401.1,905.5 2402.7,904.8 2404.3,903.1 2405.9,902.8 2407.5,901.4 2409.1,903.3 2410.7,904.5 2412.3,905.2 2413.9,904.5 2415.5,903.7 2417.1,904.4 2418.7,904.9 2420.3,903.9 2421.9,905.5 2423.5,904.1 2425.1,906.6 2426.6,905.0 2428.2,904.3 2429.8,904.0 2431.4,907.4 2433.0,908.5 2434.6,905.9 2436.2,902.8 2437.8,903.1 2439.4,904.3 2441.0,904.7 2442.6,905.0 2444.2,904.3 2445.8,904.1 2447.4,903.2 2449.0,905.2 2450.6,906.0 2451.7,905.9"/>
</g>
<g font-size="71.5">
<text x="258" y="60.9" text-anchor="end">24</text>
<text x="258" y="198.8" text-anchor="end">20</text>
<text x="258" y="336.8" text-anchor="end">16</text>
<text x="258" y="474.7" text-anchor="end">12</text>
<text x="258" y="612.7" text-anchor="end">8</text>
<text x="258" y="750.6" text-anchor="end">4</text>
<text x="258" y="888.6" text-anchor="end">0</text>
<text x="258" y="1026.5" text-anchor="end">-4</text>
<text x="258" y="1164.5" text-anchor="end">-8</text>
<text x="258" y="1302.4" text-anchor="end">-12</text>
<text x="297.5" y="1373" text-anchor="middle">0</text>
<text x="512.4" y="1373" text-anchor="middle">1</text>
<text x="727.2" y="1373" text-anchor="middle">2</text>
<text x="942.0" y="1373" text-anchor="middle">3</text>
<text x="1156.9" y="1373" text-anchor="middle">4</text>
<text x="1371.8" y="1373" text-anchor="middle">5</text>
<text x="1586.6" y="1373" text-anchor="middle">6</text>
<text x="1801.5" y="1373" text-anchor="middle">7</text>
<text x="2016.3" y="1373" text-anchor="middle">8</text>
<text x="2231.1" y="1373" text-anchor="middle">9</text>
<text x="2446.0" y="1373" text-anchor="middle">10</text>
</g>
<text y="1507.5" font-size="96"><tspan x="1201.8" textLength="215.2" lengthAdjust="spacingAndGlyphs">Time</tspan> <tspan x="1443" textLength="96.2" lengthAdjust="spacingAndGlyphs">[s]</tspan></text>
<text transform="translate(90 1122) rotate(-90)" font-size="96"><tspan x="0" textLength="347.7" lengthAdjust="spacingAndGlyphs">Reactive</tspan> <tspan x="369.3" textLength="258.1" lengthAdjust="spacingAndGlyphs">Power</tspan> <tspan x="655.3" textLength="350.8" lengthAdjust="spacingAndGlyphs">[MVAR]</tspan></text>
<rect x="1715.5" y="74.5" width="694.5" height="185" fill="#fff" stroke="#000" stroke-width="3" shape-rendering="crispEdges"/>
<line x1="1725.5" y1="124.4" x2="1885.7" y2="124.4" stroke="#ff0000" stroke-width="7" stroke-linecap="round"/>
<line x1="1725.5" y1="211.4" x2="1885.7" y2="211.4" stroke="#0000ff" stroke-width="7" stroke-linecap="round"/>
<text y="147.8" font-size="70.5"><tspan x="1904" textLength="408.2" lengthAdjust="spacingAndGlyphs">Conventional</tspan> <tspan x="2328.9" textLength="72.6" lengthAdjust="spacingAndGlyphs">PI</tspan></text>
<text y="234.8" font-size="70.5"><tspan x="1903.9" textLength="282" lengthAdjust="spacingAndGlyphs">Proposed</tspan> <tspan x="2205.9" textLength="144.3" lengthAdjust="spacingAndGlyphs">FLC</tspan></text>
</svg></body></html>
